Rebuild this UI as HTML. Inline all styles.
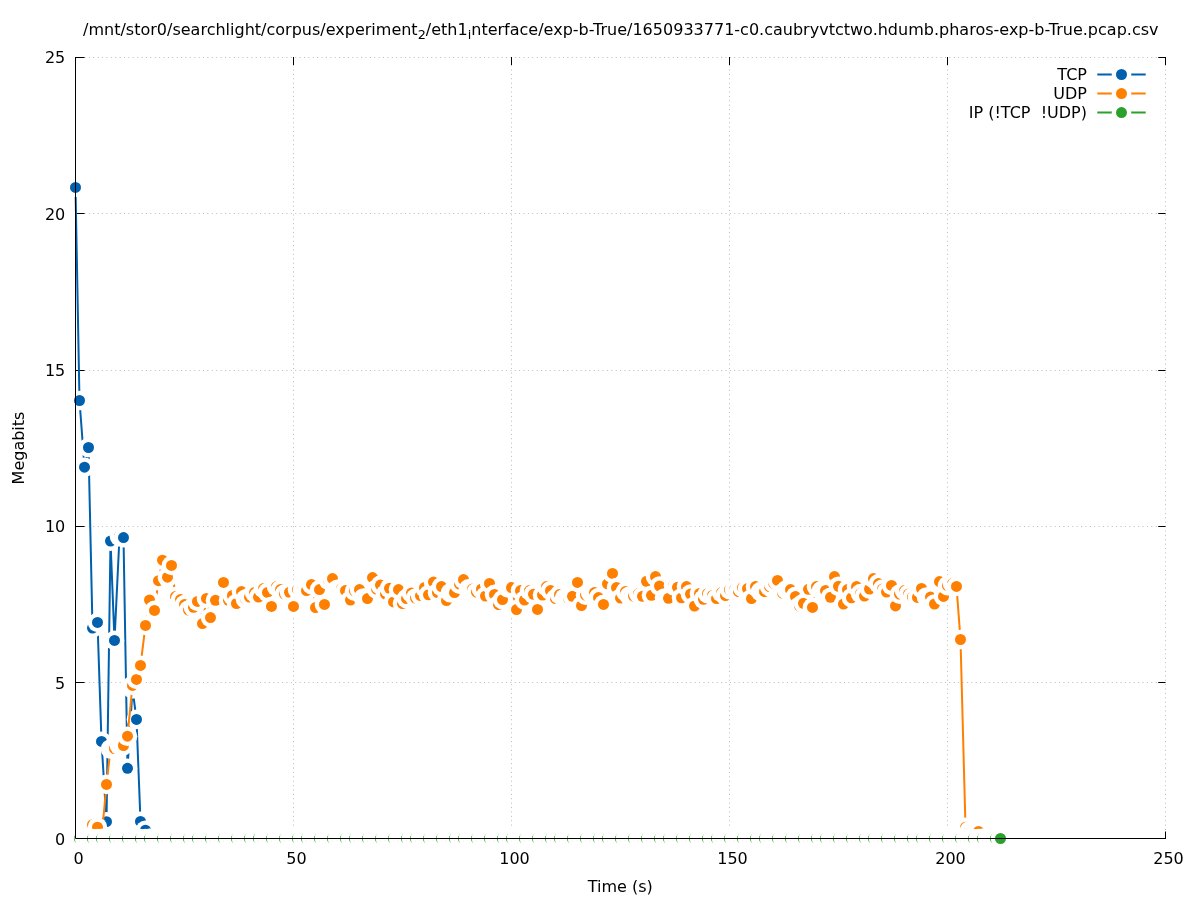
<!DOCTYPE html>
<html lang="en"><head><meta charset="utf-8"><title>Megabits over Time</title>
<style>html,body{margin:0;padding:0;background:#fff}body{width:1197px;height:900px;overflow:hidden}svg{display:block;will-change:transform}text{font-family:"DejaVu Sans","Liberation Sans",sans-serif;font-size:16px;fill:#000}</style></head><body>
<svg width="1197" height="900" viewBox="0 0 1197 900">
<rect width="1197" height="900" fill="#fff"/>
<g stroke="#bbbbbb" stroke-width="1" stroke-dasharray="1 3.39" fill="none">
<path d="M84.5 682.5H1165.5"/>
<path d="M84.5 526.5H1165.5"/>
<path d="M84.5 370.5H1165.5"/>
<path d="M84.5 213.5H1165.5"/>
<path d="M84.5 57.5H1165.5"/>
<path d="M293.5 830V57.5"/>
<path d="M511.5 830V57.5"/>
<path d="M729.5 830V57.5"/>
<path d="M947.5 830V57.5"/>
<path d="M1165.5 830V57.5"/>
</g>
<g stroke="#000" stroke-width="1" fill="none">
<path d="M75.5 838.5h9M1165.5 838.5h-7.3"/>
<path d="M75.5 682.5h9M1165.5 682.5h-7.3"/>
<path d="M75.5 526.5h9M1165.5 526.5h-7.3"/>
<path d="M75.5 370.5h9M1165.5 370.5h-7.3"/>
<path d="M75.5 213.5h9M1165.5 213.5h-7.3"/>
<path d="M75.5 57.5h9M1165.5 57.5h-7.3"/>
<path d="M75.5 838.5v-7M75.5 57.0v8"/>
<path d="M293.5 838.5v-7M293.5 57.0v8"/>
<path d="M511.5 838.5v-7M511.5 57.0v8"/>
<path d="M729.5 838.5v-7M729.5 57.0v8"/>
<path d="M947.5 838.5v-7M947.5 57.0v8"/>
<path d="M1165.5 838.5v-7M1165.5 57.0v8"/>
</g>
<g>
<path d="M75.50 187.40L79.50 400.50L84.50 467.20L88.50 447.50L92.50 628.10L97.50 622.40L101.50 741.40L106.50 821.70L110.50 541.10L114.50 640.40L119.50 536.50L123.50 537.60L127.50 768.30L132.50 689.00L136.50 719.40L140.50 821.40L145.50 830.20L149.50 838.30L154.50 838.30L158.50 838.30L162.50 838.30L167.50 838.30L171.50 838.30L175.50 838.30L180.50 838.30L184.50 838.30L188.50 838.30L193.50 838.30L197.50 838.30L202.50 838.30L206.50 838.30L210.50 838.30L215.50 838.30L219.50 838.30L223.50 838.30L228.50 838.30L232.50 838.30L236.50 838.30L241.50 838.30L245.50 838.30L249.50 838.30L254.50 838.30L258.50 838.30L263.50 838.30L267.50 838.30L271.50 838.30L276.50 838.30L280.50 838.30L284.50 838.30L289.50 838.30L293.50 838.30L297.50 838.30L302.50 838.30L306.50 838.30L311.50 838.30L315.50 838.30L319.50 838.30L324.50 838.30L328.50 838.30L332.50 838.30L337.50 838.30L341.50 838.30L345.50 838.30L350.50 838.30L354.50 838.30L359.50 838.30L363.50 838.30L367.50 838.30L372.50 838.30L376.50 838.30L380.50 838.30L385.50 838.30L389.50 838.30L393.50 838.30L398.50 838.30L402.50 838.30L406.50 838.30L411.50 838.30L415.50 838.30L420.50 838.30L424.50 838.30L428.50 838.30L433.50 838.30L437.50 838.30L441.50 838.30L446.50 838.30L450.50 838.30L454.50 838.30L459.50 838.30L463.50 838.30L468.50 838.30L472.50 838.30L476.50 838.30L481.50 838.30L485.50 838.30L489.50 838.30L494.50 838.30L498.50 838.30L502.50 838.30L507.50 838.30L511.50 838.30L516.50 838.30L520.50 838.30L524.50 838.30L529.50 838.30L533.50 838.30L537.50 838.30L542.50 838.30L546.50 838.30L550.50 838.30L555.50 838.30L559.50 838.30L564.50 838.30L568.50 838.30L572.50 838.30L577.50 838.30L581.50 838.30L585.50 838.30L590.50 838.30L594.50 838.30L598.50 838.30L603.50 838.30L607.50 838.30L612.50 838.30L616.50 838.30L620.50 838.30L625.50 838.30L629.50 838.30L633.50 838.30L638.50 838.30L642.50 838.30L646.50 838.30L651.50 838.30L655.50 838.30L659.50 838.30L664.50 838.30L668.50 838.30L673.50 838.30L677.50 838.30L681.50 838.30L686.50 838.30L690.50 838.30L694.50 838.30L699.50 838.30L703.50 838.30L707.50 838.30L712.50 838.30L716.50 838.30L721.50 838.30L725.50 838.30L729.50 838.30L734.50 838.30L738.50 838.30L742.50 838.30L747.50 838.30L751.50 838.30L755.50 838.30L760.50 838.30L764.50 838.30L769.50 838.30L773.50 838.30L777.50 838.30L782.50 838.30L786.50 838.30L790.50 838.30L795.50 838.30L799.50 838.30L803.50 838.30L808.50 838.30L812.50 838.30L816.50 838.30L821.50 838.30L825.50 838.30L830.50 838.30L834.50 838.30L838.50 838.30L843.50 838.30L847.50 838.30L851.50 838.30L856.50 838.30L860.50 838.30L864.50 838.30L869.50 838.30L873.50 838.30L878.50 838.30L882.50 838.30L886.50 838.30L891.50 838.30L895.50 838.30L899.50 838.30L904.50 838.30L908.50 838.30L912.50 838.30L917.50 838.30L921.50 838.30L926.50 838.30L930.50 838.30L934.50 838.30L939.50 838.30L943.50 838.30L947.50 838.30L952.50 838.30L956.50 838.30L960.50 838.30L965.50 838.30L969.50 838.30L973.50 838.30L978.50 838.30L982.50 838.30L987.50 838.30L991.50 838.30L995.50 838.30L1000.50 838.30" stroke="#0060ad" stroke-width="2.0" fill="none" stroke-linejoin="round"/>
<circle cx="75.50" cy="187.40" r="9.8" fill="#fff"/><circle cx="75.50" cy="187.40" r="5.5" fill="#0060ad"/>
<circle cx="79.50" cy="400.50" r="9.8" fill="#fff"/><circle cx="79.50" cy="400.50" r="5.5" fill="#0060ad"/>
<circle cx="84.50" cy="467.20" r="9.8" fill="#fff"/><circle cx="84.50" cy="467.20" r="5.5" fill="#0060ad"/>
<circle cx="88.50" cy="447.50" r="9.8" fill="#fff"/><circle cx="88.50" cy="447.50" r="5.5" fill="#0060ad"/>
<circle cx="92.50" cy="628.10" r="9.8" fill="#fff"/><circle cx="92.50" cy="628.10" r="5.5" fill="#0060ad"/>
<circle cx="97.50" cy="622.40" r="9.8" fill="#fff"/><circle cx="97.50" cy="622.40" r="5.5" fill="#0060ad"/>
<circle cx="101.50" cy="741.40" r="9.8" fill="#fff"/><circle cx="101.50" cy="741.40" r="5.5" fill="#0060ad"/>
<circle cx="106.50" cy="821.70" r="9.8" fill="#fff"/><circle cx="106.50" cy="821.70" r="5.5" fill="#0060ad"/>
<circle cx="110.50" cy="541.10" r="9.8" fill="#fff"/><circle cx="110.50" cy="541.10" r="5.5" fill="#0060ad"/>
<circle cx="114.50" cy="640.40" r="9.8" fill="#fff"/><circle cx="114.50" cy="640.40" r="5.5" fill="#0060ad"/>
<circle cx="119.50" cy="536.50" r="9.8" fill="#fff"/><circle cx="119.50" cy="536.50" r="5.5" fill="#0060ad"/>
<circle cx="123.50" cy="537.60" r="9.8" fill="#fff"/><circle cx="123.50" cy="537.60" r="5.5" fill="#0060ad"/>
<circle cx="127.50" cy="768.30" r="9.8" fill="#fff"/><circle cx="127.50" cy="768.30" r="5.5" fill="#0060ad"/>
<circle cx="132.50" cy="689.00" r="9.8" fill="#fff"/><circle cx="132.50" cy="689.00" r="5.5" fill="#0060ad"/>
<circle cx="136.50" cy="719.40" r="9.8" fill="#fff"/><circle cx="136.50" cy="719.40" r="5.5" fill="#0060ad"/>
<circle cx="140.50" cy="821.40" r="9.8" fill="#fff"/><circle cx="140.50" cy="821.40" r="5.5" fill="#0060ad"/>
<circle cx="145.50" cy="830.20" r="9.8" fill="#fff"/><circle cx="145.50" cy="830.20" r="5.5" fill="#0060ad"/>
<circle cx="149.50" cy="838.30" r="9.8" fill="#fff"/><circle cx="149.50" cy="838.30" r="5.5" fill="#0060ad"/>
<circle cx="154.50" cy="838.30" r="9.8" fill="#fff"/><circle cx="154.50" cy="838.30" r="5.5" fill="#0060ad"/>
<circle cx="158.50" cy="838.30" r="9.8" fill="#fff"/><circle cx="158.50" cy="838.30" r="5.5" fill="#0060ad"/>
<circle cx="162.50" cy="838.30" r="9.8" fill="#fff"/><circle cx="162.50" cy="838.30" r="5.5" fill="#0060ad"/>
<circle cx="167.50" cy="838.30" r="9.8" fill="#fff"/><circle cx="167.50" cy="838.30" r="5.5" fill="#0060ad"/>
<circle cx="171.50" cy="838.30" r="9.8" fill="#fff"/><circle cx="171.50" cy="838.30" r="5.5" fill="#0060ad"/>
<circle cx="175.50" cy="838.30" r="9.8" fill="#fff"/><circle cx="175.50" cy="838.30" r="5.5" fill="#0060ad"/>
<circle cx="180.50" cy="838.30" r="9.8" fill="#fff"/><circle cx="180.50" cy="838.30" r="5.5" fill="#0060ad"/>
<circle cx="184.50" cy="838.30" r="9.8" fill="#fff"/><circle cx="184.50" cy="838.30" r="5.5" fill="#0060ad"/>
<circle cx="188.50" cy="838.30" r="9.8" fill="#fff"/><circle cx="188.50" cy="838.30" r="5.5" fill="#0060ad"/>
<circle cx="193.50" cy="838.30" r="9.8" fill="#fff"/><circle cx="193.50" cy="838.30" r="5.5" fill="#0060ad"/>
<circle cx="197.50" cy="838.30" r="9.8" fill="#fff"/><circle cx="197.50" cy="838.30" r="5.5" fill="#0060ad"/>
<circle cx="202.50" cy="838.30" r="9.8" fill="#fff"/><circle cx="202.50" cy="838.30" r="5.5" fill="#0060ad"/>
<circle cx="206.50" cy="838.30" r="9.8" fill="#fff"/><circle cx="206.50" cy="838.30" r="5.5" fill="#0060ad"/>
<circle cx="210.50" cy="838.30" r="9.8" fill="#fff"/><circle cx="210.50" cy="838.30" r="5.5" fill="#0060ad"/>
<circle cx="215.50" cy="838.30" r="9.8" fill="#fff"/><circle cx="215.50" cy="838.30" r="5.5" fill="#0060ad"/>
<circle cx="219.50" cy="838.30" r="9.8" fill="#fff"/><circle cx="219.50" cy="838.30" r="5.5" fill="#0060ad"/>
<circle cx="223.50" cy="838.30" r="9.8" fill="#fff"/><circle cx="223.50" cy="838.30" r="5.5" fill="#0060ad"/>
<circle cx="228.50" cy="838.30" r="9.8" fill="#fff"/><circle cx="228.50" cy="838.30" r="5.5" fill="#0060ad"/>
<circle cx="232.50" cy="838.30" r="9.8" fill="#fff"/><circle cx="232.50" cy="838.30" r="5.5" fill="#0060ad"/>
<circle cx="236.50" cy="838.30" r="9.8" fill="#fff"/><circle cx="236.50" cy="838.30" r="5.5" fill="#0060ad"/>
<circle cx="241.50" cy="838.30" r="9.8" fill="#fff"/><circle cx="241.50" cy="838.30" r="5.5" fill="#0060ad"/>
<circle cx="245.50" cy="838.30" r="9.8" fill="#fff"/><circle cx="245.50" cy="838.30" r="5.5" fill="#0060ad"/>
<circle cx="249.50" cy="838.30" r="9.8" fill="#fff"/><circle cx="249.50" cy="838.30" r="5.5" fill="#0060ad"/>
<circle cx="254.50" cy="838.30" r="9.8" fill="#fff"/><circle cx="254.50" cy="838.30" r="5.5" fill="#0060ad"/>
<circle cx="258.50" cy="838.30" r="9.8" fill="#fff"/><circle cx="258.50" cy="838.30" r="5.5" fill="#0060ad"/>
<circle cx="263.50" cy="838.30" r="9.8" fill="#fff"/><circle cx="263.50" cy="838.30" r="5.5" fill="#0060ad"/>
<circle cx="267.50" cy="838.30" r="9.8" fill="#fff"/><circle cx="267.50" cy="838.30" r="5.5" fill="#0060ad"/>
<circle cx="271.50" cy="838.30" r="9.8" fill="#fff"/><circle cx="271.50" cy="838.30" r="5.5" fill="#0060ad"/>
<circle cx="276.50" cy="838.30" r="9.8" fill="#fff"/><circle cx="276.50" cy="838.30" r="5.5" fill="#0060ad"/>
<circle cx="280.50" cy="838.30" r="9.8" fill="#fff"/><circle cx="280.50" cy="838.30" r="5.5" fill="#0060ad"/>
<circle cx="284.50" cy="838.30" r="9.8" fill="#fff"/><circle cx="284.50" cy="838.30" r="5.5" fill="#0060ad"/>
<circle cx="289.50" cy="838.30" r="9.8" fill="#fff"/><circle cx="289.50" cy="838.30" r="5.5" fill="#0060ad"/>
<circle cx="293.50" cy="838.30" r="9.8" fill="#fff"/><circle cx="293.50" cy="838.30" r="5.5" fill="#0060ad"/>
<circle cx="297.50" cy="838.30" r="9.8" fill="#fff"/><circle cx="297.50" cy="838.30" r="5.5" fill="#0060ad"/>
<circle cx="302.50" cy="838.30" r="9.8" fill="#fff"/><circle cx="302.50" cy="838.30" r="5.5" fill="#0060ad"/>
<circle cx="306.50" cy="838.30" r="9.8" fill="#fff"/><circle cx="306.50" cy="838.30" r="5.5" fill="#0060ad"/>
<circle cx="311.50" cy="838.30" r="9.8" fill="#fff"/><circle cx="311.50" cy="838.30" r="5.5" fill="#0060ad"/>
<circle cx="315.50" cy="838.30" r="9.8" fill="#fff"/><circle cx="315.50" cy="838.30" r="5.5" fill="#0060ad"/>
<circle cx="319.50" cy="838.30" r="9.8" fill="#fff"/><circle cx="319.50" cy="838.30" r="5.5" fill="#0060ad"/>
<circle cx="324.50" cy="838.30" r="9.8" fill="#fff"/><circle cx="324.50" cy="838.30" r="5.5" fill="#0060ad"/>
<circle cx="328.50" cy="838.30" r="9.8" fill="#fff"/><circle cx="328.50" cy="838.30" r="5.5" fill="#0060ad"/>
<circle cx="332.50" cy="838.30" r="9.8" fill="#fff"/><circle cx="332.50" cy="838.30" r="5.5" fill="#0060ad"/>
<circle cx="337.50" cy="838.30" r="9.8" fill="#fff"/><circle cx="337.50" cy="838.30" r="5.5" fill="#0060ad"/>
<circle cx="341.50" cy="838.30" r="9.8" fill="#fff"/><circle cx="341.50" cy="838.30" r="5.5" fill="#0060ad"/>
<circle cx="345.50" cy="838.30" r="9.8" fill="#fff"/><circle cx="345.50" cy="838.30" r="5.5" fill="#0060ad"/>
<circle cx="350.50" cy="838.30" r="9.8" fill="#fff"/><circle cx="350.50" cy="838.30" r="5.5" fill="#0060ad"/>
<circle cx="354.50" cy="838.30" r="9.8" fill="#fff"/><circle cx="354.50" cy="838.30" r="5.5" fill="#0060ad"/>
<circle cx="359.50" cy="838.30" r="9.8" fill="#fff"/><circle cx="359.50" cy="838.30" r="5.5" fill="#0060ad"/>
<circle cx="363.50" cy="838.30" r="9.8" fill="#fff"/><circle cx="363.50" cy="838.30" r="5.5" fill="#0060ad"/>
<circle cx="367.50" cy="838.30" r="9.8" fill="#fff"/><circle cx="367.50" cy="838.30" r="5.5" fill="#0060ad"/>
<circle cx="372.50" cy="838.30" r="9.8" fill="#fff"/><circle cx="372.50" cy="838.30" r="5.5" fill="#0060ad"/>
<circle cx="376.50" cy="838.30" r="9.8" fill="#fff"/><circle cx="376.50" cy="838.30" r="5.5" fill="#0060ad"/>
<circle cx="380.50" cy="838.30" r="9.8" fill="#fff"/><circle cx="380.50" cy="838.30" r="5.5" fill="#0060ad"/>
<circle cx="385.50" cy="838.30" r="9.8" fill="#fff"/><circle cx="385.50" cy="838.30" r="5.5" fill="#0060ad"/>
<circle cx="389.50" cy="838.30" r="9.8" fill="#fff"/><circle cx="389.50" cy="838.30" r="5.5" fill="#0060ad"/>
<circle cx="393.50" cy="838.30" r="9.8" fill="#fff"/><circle cx="393.50" cy="838.30" r="5.5" fill="#0060ad"/>
<circle cx="398.50" cy="838.30" r="9.8" fill="#fff"/><circle cx="398.50" cy="838.30" r="5.5" fill="#0060ad"/>
<circle cx="402.50" cy="838.30" r="9.8" fill="#fff"/><circle cx="402.50" cy="838.30" r="5.5" fill="#0060ad"/>
<circle cx="406.50" cy="838.30" r="9.8" fill="#fff"/><circle cx="406.50" cy="838.30" r="5.5" fill="#0060ad"/>
<circle cx="411.50" cy="838.30" r="9.8" fill="#fff"/><circle cx="411.50" cy="838.30" r="5.5" fill="#0060ad"/>
<circle cx="415.50" cy="838.30" r="9.8" fill="#fff"/><circle cx="415.50" cy="838.30" r="5.5" fill="#0060ad"/>
<circle cx="420.50" cy="838.30" r="9.8" fill="#fff"/><circle cx="420.50" cy="838.30" r="5.5" fill="#0060ad"/>
<circle cx="424.50" cy="838.30" r="9.8" fill="#fff"/><circle cx="424.50" cy="838.30" r="5.5" fill="#0060ad"/>
<circle cx="428.50" cy="838.30" r="9.8" fill="#fff"/><circle cx="428.50" cy="838.30" r="5.5" fill="#0060ad"/>
<circle cx="433.50" cy="838.30" r="9.8" fill="#fff"/><circle cx="433.50" cy="838.30" r="5.5" fill="#0060ad"/>
<circle cx="437.50" cy="838.30" r="9.8" fill="#fff"/><circle cx="437.50" cy="838.30" r="5.5" fill="#0060ad"/>
<circle cx="441.50" cy="838.30" r="9.8" fill="#fff"/><circle cx="441.50" cy="838.30" r="5.5" fill="#0060ad"/>
<circle cx="446.50" cy="838.30" r="9.8" fill="#fff"/><circle cx="446.50" cy="838.30" r="5.5" fill="#0060ad"/>
<circle cx="450.50" cy="838.30" r="9.8" fill="#fff"/><circle cx="450.50" cy="838.30" r="5.5" fill="#0060ad"/>
<circle cx="454.50" cy="838.30" r="9.8" fill="#fff"/><circle cx="454.50" cy="838.30" r="5.5" fill="#0060ad"/>
<circle cx="459.50" cy="838.30" r="9.8" fill="#fff"/><circle cx="459.50" cy="838.30" r="5.5" fill="#0060ad"/>
<circle cx="463.50" cy="838.30" r="9.8" fill="#fff"/><circle cx="463.50" cy="838.30" r="5.5" fill="#0060ad"/>
<circle cx="468.50" cy="838.30" r="9.8" fill="#fff"/><circle cx="468.50" cy="838.30" r="5.5" fill="#0060ad"/>
<circle cx="472.50" cy="838.30" r="9.8" fill="#fff"/><circle cx="472.50" cy="838.30" r="5.5" fill="#0060ad"/>
<circle cx="476.50" cy="838.30" r="9.8" fill="#fff"/><circle cx="476.50" cy="838.30" r="5.5" fill="#0060ad"/>
<circle cx="481.50" cy="838.30" r="9.8" fill="#fff"/><circle cx="481.50" cy="838.30" r="5.5" fill="#0060ad"/>
<circle cx="485.50" cy="838.30" r="9.8" fill="#fff"/><circle cx="485.50" cy="838.30" r="5.5" fill="#0060ad"/>
<circle cx="489.50" cy="838.30" r="9.8" fill="#fff"/><circle cx="489.50" cy="838.30" r="5.5" fill="#0060ad"/>
<circle cx="494.50" cy="838.30" r="9.8" fill="#fff"/><circle cx="494.50" cy="838.30" r="5.5" fill="#0060ad"/>
<circle cx="498.50" cy="838.30" r="9.8" fill="#fff"/><circle cx="498.50" cy="838.30" r="5.5" fill="#0060ad"/>
<circle cx="502.50" cy="838.30" r="9.8" fill="#fff"/><circle cx="502.50" cy="838.30" r="5.5" fill="#0060ad"/>
<circle cx="507.50" cy="838.30" r="9.8" fill="#fff"/><circle cx="507.50" cy="838.30" r="5.5" fill="#0060ad"/>
<circle cx="511.50" cy="838.30" r="9.8" fill="#fff"/><circle cx="511.50" cy="838.30" r="5.5" fill="#0060ad"/>
<circle cx="516.50" cy="838.30" r="9.8" fill="#fff"/><circle cx="516.50" cy="838.30" r="5.5" fill="#0060ad"/>
<circle cx="520.50" cy="838.30" r="9.8" fill="#fff"/><circle cx="520.50" cy="838.30" r="5.5" fill="#0060ad"/>
<circle cx="524.50" cy="838.30" r="9.8" fill="#fff"/><circle cx="524.50" cy="838.30" r="5.5" fill="#0060ad"/>
<circle cx="529.50" cy="838.30" r="9.8" fill="#fff"/><circle cx="529.50" cy="838.30" r="5.5" fill="#0060ad"/>
<circle cx="533.50" cy="838.30" r="9.8" fill="#fff"/><circle cx="533.50" cy="838.30" r="5.5" fill="#0060ad"/>
<circle cx="537.50" cy="838.30" r="9.8" fill="#fff"/><circle cx="537.50" cy="838.30" r="5.5" fill="#0060ad"/>
<circle cx="542.50" cy="838.30" r="9.8" fill="#fff"/><circle cx="542.50" cy="838.30" r="5.5" fill="#0060ad"/>
<circle cx="546.50" cy="838.30" r="9.8" fill="#fff"/><circle cx="546.50" cy="838.30" r="5.5" fill="#0060ad"/>
<circle cx="550.50" cy="838.30" r="9.8" fill="#fff"/><circle cx="550.50" cy="838.30" r="5.5" fill="#0060ad"/>
<circle cx="555.50" cy="838.30" r="9.8" fill="#fff"/><circle cx="555.50" cy="838.30" r="5.5" fill="#0060ad"/>
<circle cx="559.50" cy="838.30" r="9.8" fill="#fff"/><circle cx="559.50" cy="838.30" r="5.5" fill="#0060ad"/>
<circle cx="564.50" cy="838.30" r="9.8" fill="#fff"/><circle cx="564.50" cy="838.30" r="5.5" fill="#0060ad"/>
<circle cx="568.50" cy="838.30" r="9.8" fill="#fff"/><circle cx="568.50" cy="838.30" r="5.5" fill="#0060ad"/>
<circle cx="572.50" cy="838.30" r="9.8" fill="#fff"/><circle cx="572.50" cy="838.30" r="5.5" fill="#0060ad"/>
<circle cx="577.50" cy="838.30" r="9.8" fill="#fff"/><circle cx="577.50" cy="838.30" r="5.5" fill="#0060ad"/>
<circle cx="581.50" cy="838.30" r="9.8" fill="#fff"/><circle cx="581.50" cy="838.30" r="5.5" fill="#0060ad"/>
<circle cx="585.50" cy="838.30" r="9.8" fill="#fff"/><circle cx="585.50" cy="838.30" r="5.5" fill="#0060ad"/>
<circle cx="590.50" cy="838.30" r="9.8" fill="#fff"/><circle cx="590.50" cy="838.30" r="5.5" fill="#0060ad"/>
<circle cx="594.50" cy="838.30" r="9.8" fill="#fff"/><circle cx="594.50" cy="838.30" r="5.5" fill="#0060ad"/>
<circle cx="598.50" cy="838.30" r="9.8" fill="#fff"/><circle cx="598.50" cy="838.30" r="5.5" fill="#0060ad"/>
<circle cx="603.50" cy="838.30" r="9.8" fill="#fff"/><circle cx="603.50" cy="838.30" r="5.5" fill="#0060ad"/>
<circle cx="607.50" cy="838.30" r="9.8" fill="#fff"/><circle cx="607.50" cy="838.30" r="5.5" fill="#0060ad"/>
<circle cx="612.50" cy="838.30" r="9.8" fill="#fff"/><circle cx="612.50" cy="838.30" r="5.5" fill="#0060ad"/>
<circle cx="616.50" cy="838.30" r="9.8" fill="#fff"/><circle cx="616.50" cy="838.30" r="5.5" fill="#0060ad"/>
<circle cx="620.50" cy="838.30" r="9.8" fill="#fff"/><circle cx="620.50" cy="838.30" r="5.5" fill="#0060ad"/>
<circle cx="625.50" cy="838.30" r="9.8" fill="#fff"/><circle cx="625.50" cy="838.30" r="5.5" fill="#0060ad"/>
<circle cx="629.50" cy="838.30" r="9.8" fill="#fff"/><circle cx="629.50" cy="838.30" r="5.5" fill="#0060ad"/>
<circle cx="633.50" cy="838.30" r="9.8" fill="#fff"/><circle cx="633.50" cy="838.30" r="5.5" fill="#0060ad"/>
<circle cx="638.50" cy="838.30" r="9.8" fill="#fff"/><circle cx="638.50" cy="838.30" r="5.5" fill="#0060ad"/>
<circle cx="642.50" cy="838.30" r="9.8" fill="#fff"/><circle cx="642.50" cy="838.30" r="5.5" fill="#0060ad"/>
<circle cx="646.50" cy="838.30" r="9.8" fill="#fff"/><circle cx="646.50" cy="838.30" r="5.5" fill="#0060ad"/>
<circle cx="651.50" cy="838.30" r="9.8" fill="#fff"/><circle cx="651.50" cy="838.30" r="5.5" fill="#0060ad"/>
<circle cx="655.50" cy="838.30" r="9.8" fill="#fff"/><circle cx="655.50" cy="838.30" r="5.5" fill="#0060ad"/>
<circle cx="659.50" cy="838.30" r="9.8" fill="#fff"/><circle cx="659.50" cy="838.30" r="5.5" fill="#0060ad"/>
<circle cx="664.50" cy="838.30" r="9.8" fill="#fff"/><circle cx="664.50" cy="838.30" r="5.5" fill="#0060ad"/>
<circle cx="668.50" cy="838.30" r="9.8" fill="#fff"/><circle cx="668.50" cy="838.30" r="5.5" fill="#0060ad"/>
<circle cx="673.50" cy="838.30" r="9.8" fill="#fff"/><circle cx="673.50" cy="838.30" r="5.5" fill="#0060ad"/>
<circle cx="677.50" cy="838.30" r="9.8" fill="#fff"/><circle cx="677.50" cy="838.30" r="5.5" fill="#0060ad"/>
<circle cx="681.50" cy="838.30" r="9.8" fill="#fff"/><circle cx="681.50" cy="838.30" r="5.5" fill="#0060ad"/>
<circle cx="686.50" cy="838.30" r="9.8" fill="#fff"/><circle cx="686.50" cy="838.30" r="5.5" fill="#0060ad"/>
<circle cx="690.50" cy="838.30" r="9.8" fill="#fff"/><circle cx="690.50" cy="838.30" r="5.5" fill="#0060ad"/>
<circle cx="694.50" cy="838.30" r="9.8" fill="#fff"/><circle cx="694.50" cy="838.30" r="5.5" fill="#0060ad"/>
<circle cx="699.50" cy="838.30" r="9.8" fill="#fff"/><circle cx="699.50" cy="838.30" r="5.5" fill="#0060ad"/>
<circle cx="703.50" cy="838.30" r="9.8" fill="#fff"/><circle cx="703.50" cy="838.30" r="5.5" fill="#0060ad"/>
<circle cx="707.50" cy="838.30" r="9.8" fill="#fff"/><circle cx="707.50" cy="838.30" r="5.5" fill="#0060ad"/>
<circle cx="712.50" cy="838.30" r="9.8" fill="#fff"/><circle cx="712.50" cy="838.30" r="5.5" fill="#0060ad"/>
<circle cx="716.50" cy="838.30" r="9.8" fill="#fff"/><circle cx="716.50" cy="838.30" r="5.5" fill="#0060ad"/>
<circle cx="721.50" cy="838.30" r="9.8" fill="#fff"/><circle cx="721.50" cy="838.30" r="5.5" fill="#0060ad"/>
<circle cx="725.50" cy="838.30" r="9.8" fill="#fff"/><circle cx="725.50" cy="838.30" r="5.5" fill="#0060ad"/>
<circle cx="729.50" cy="838.30" r="9.8" fill="#fff"/><circle cx="729.50" cy="838.30" r="5.5" fill="#0060ad"/>
<circle cx="734.50" cy="838.30" r="9.8" fill="#fff"/><circle cx="734.50" cy="838.30" r="5.5" fill="#0060ad"/>
<circle cx="738.50" cy="838.30" r="9.8" fill="#fff"/><circle cx="738.50" cy="838.30" r="5.5" fill="#0060ad"/>
<circle cx="742.50" cy="838.30" r="9.8" fill="#fff"/><circle cx="742.50" cy="838.30" r="5.5" fill="#0060ad"/>
<circle cx="747.50" cy="838.30" r="9.8" fill="#fff"/><circle cx="747.50" cy="838.30" r="5.5" fill="#0060ad"/>
<circle cx="751.50" cy="838.30" r="9.8" fill="#fff"/><circle cx="751.50" cy="838.30" r="5.5" fill="#0060ad"/>
<circle cx="755.50" cy="838.30" r="9.8" fill="#fff"/><circle cx="755.50" cy="838.30" r="5.5" fill="#0060ad"/>
<circle cx="760.50" cy="838.30" r="9.8" fill="#fff"/><circle cx="760.50" cy="838.30" r="5.5" fill="#0060ad"/>
<circle cx="764.50" cy="838.30" r="9.8" fill="#fff"/><circle cx="764.50" cy="838.30" r="5.5" fill="#0060ad"/>
<circle cx="769.50" cy="838.30" r="9.8" fill="#fff"/><circle cx="769.50" cy="838.30" r="5.5" fill="#0060ad"/>
<circle cx="773.50" cy="838.30" r="9.8" fill="#fff"/><circle cx="773.50" cy="838.30" r="5.5" fill="#0060ad"/>
<circle cx="777.50" cy="838.30" r="9.8" fill="#fff"/><circle cx="777.50" cy="838.30" r="5.5" fill="#0060ad"/>
<circle cx="782.50" cy="838.30" r="9.8" fill="#fff"/><circle cx="782.50" cy="838.30" r="5.5" fill="#0060ad"/>
<circle cx="786.50" cy="838.30" r="9.8" fill="#fff"/><circle cx="786.50" cy="838.30" r="5.5" fill="#0060ad"/>
<circle cx="790.50" cy="838.30" r="9.8" fill="#fff"/><circle cx="790.50" cy="838.30" r="5.5" fill="#0060ad"/>
<circle cx="795.50" cy="838.30" r="9.8" fill="#fff"/><circle cx="795.50" cy="838.30" r="5.5" fill="#0060ad"/>
<circle cx="799.50" cy="838.30" r="9.8" fill="#fff"/><circle cx="799.50" cy="838.30" r="5.5" fill="#0060ad"/>
<circle cx="803.50" cy="838.30" r="9.8" fill="#fff"/><circle cx="803.50" cy="838.30" r="5.5" fill="#0060ad"/>
<circle cx="808.50" cy="838.30" r="9.8" fill="#fff"/><circle cx="808.50" cy="838.30" r="5.5" fill="#0060ad"/>
<circle cx="812.50" cy="838.30" r="9.8" fill="#fff"/><circle cx="812.50" cy="838.30" r="5.5" fill="#0060ad"/>
<circle cx="816.50" cy="838.30" r="9.8" fill="#fff"/><circle cx="816.50" cy="838.30" r="5.5" fill="#0060ad"/>
<circle cx="821.50" cy="838.30" r="9.8" fill="#fff"/><circle cx="821.50" cy="838.30" r="5.5" fill="#0060ad"/>
<circle cx="825.50" cy="838.30" r="9.8" fill="#fff"/><circle cx="825.50" cy="838.30" r="5.5" fill="#0060ad"/>
<circle cx="830.50" cy="838.30" r="9.8" fill="#fff"/><circle cx="830.50" cy="838.30" r="5.5" fill="#0060ad"/>
<circle cx="834.50" cy="838.30" r="9.8" fill="#fff"/><circle cx="834.50" cy="838.30" r="5.5" fill="#0060ad"/>
<circle cx="838.50" cy="838.30" r="9.8" fill="#fff"/><circle cx="838.50" cy="838.30" r="5.5" fill="#0060ad"/>
<circle cx="843.50" cy="838.30" r="9.8" fill="#fff"/><circle cx="843.50" cy="838.30" r="5.5" fill="#0060ad"/>
<circle cx="847.50" cy="838.30" r="9.8" fill="#fff"/><circle cx="847.50" cy="838.30" r="5.5" fill="#0060ad"/>
<circle cx="851.50" cy="838.30" r="9.8" fill="#fff"/><circle cx="851.50" cy="838.30" r="5.5" fill="#0060ad"/>
<circle cx="856.50" cy="838.30" r="9.8" fill="#fff"/><circle cx="856.50" cy="838.30" r="5.5" fill="#0060ad"/>
<circle cx="860.50" cy="838.30" r="9.8" fill="#fff"/><circle cx="860.50" cy="838.30" r="5.5" fill="#0060ad"/>
<circle cx="864.50" cy="838.30" r="9.8" fill="#fff"/><circle cx="864.50" cy="838.30" r="5.5" fill="#0060ad"/>
<circle cx="869.50" cy="838.30" r="9.8" fill="#fff"/><circle cx="869.50" cy="838.30" r="5.5" fill="#0060ad"/>
<circle cx="873.50" cy="838.30" r="9.8" fill="#fff"/><circle cx="873.50" cy="838.30" r="5.5" fill="#0060ad"/>
<circle cx="878.50" cy="838.30" r="9.8" fill="#fff"/><circle cx="878.50" cy="838.30" r="5.5" fill="#0060ad"/>
<circle cx="882.50" cy="838.30" r="9.8" fill="#fff"/><circle cx="882.50" cy="838.30" r="5.5" fill="#0060ad"/>
<circle cx="886.50" cy="838.30" r="9.8" fill="#fff"/><circle cx="886.50" cy="838.30" r="5.5" fill="#0060ad"/>
<circle cx="891.50" cy="838.30" r="9.8" fill="#fff"/><circle cx="891.50" cy="838.30" r="5.5" fill="#0060ad"/>
<circle cx="895.50" cy="838.30" r="9.8" fill="#fff"/><circle cx="895.50" cy="838.30" r="5.5" fill="#0060ad"/>
<circle cx="899.50" cy="838.30" r="9.8" fill="#fff"/><circle cx="899.50" cy="838.30" r="5.5" fill="#0060ad"/>
<circle cx="904.50" cy="838.30" r="9.8" fill="#fff"/><circle cx="904.50" cy="838.30" r="5.5" fill="#0060ad"/>
<circle cx="908.50" cy="838.30" r="9.8" fill="#fff"/><circle cx="908.50" cy="838.30" r="5.5" fill="#0060ad"/>
<circle cx="912.50" cy="838.30" r="9.8" fill="#fff"/><circle cx="912.50" cy="838.30" r="5.5" fill="#0060ad"/>
<circle cx="917.50" cy="838.30" r="9.8" fill="#fff"/><circle cx="917.50" cy="838.30" r="5.5" fill="#0060ad"/>
<circle cx="921.50" cy="838.30" r="9.8" fill="#fff"/><circle cx="921.50" cy="838.30" r="5.5" fill="#0060ad"/>
<circle cx="926.50" cy="838.30" r="9.8" fill="#fff"/><circle cx="926.50" cy="838.30" r="5.5" fill="#0060ad"/>
<circle cx="930.50" cy="838.30" r="9.8" fill="#fff"/><circle cx="930.50" cy="838.30" r="5.5" fill="#0060ad"/>
<circle cx="934.50" cy="838.30" r="9.8" fill="#fff"/><circle cx="934.50" cy="838.30" r="5.5" fill="#0060ad"/>
<circle cx="939.50" cy="838.30" r="9.8" fill="#fff"/><circle cx="939.50" cy="838.30" r="5.5" fill="#0060ad"/>
<circle cx="943.50" cy="838.30" r="9.8" fill="#fff"/><circle cx="943.50" cy="838.30" r="5.5" fill="#0060ad"/>
<circle cx="947.50" cy="838.30" r="9.8" fill="#fff"/><circle cx="947.50" cy="838.30" r="5.5" fill="#0060ad"/>
<circle cx="952.50" cy="838.30" r="9.8" fill="#fff"/><circle cx="952.50" cy="838.30" r="5.5" fill="#0060ad"/>
<circle cx="956.50" cy="838.30" r="9.8" fill="#fff"/><circle cx="956.50" cy="838.30" r="5.5" fill="#0060ad"/>
<circle cx="960.50" cy="838.30" r="9.8" fill="#fff"/><circle cx="960.50" cy="838.30" r="5.5" fill="#0060ad"/>
<circle cx="965.50" cy="838.30" r="9.8" fill="#fff"/><circle cx="965.50" cy="838.30" r="5.5" fill="#0060ad"/>
<circle cx="969.50" cy="838.30" r="9.8" fill="#fff"/><circle cx="969.50" cy="838.30" r="5.5" fill="#0060ad"/>
<circle cx="973.50" cy="838.30" r="9.8" fill="#fff"/><circle cx="973.50" cy="838.30" r="5.5" fill="#0060ad"/>
<circle cx="978.50" cy="838.30" r="9.8" fill="#fff"/><circle cx="978.50" cy="838.30" r="5.5" fill="#0060ad"/>
<circle cx="982.50" cy="838.30" r="9.8" fill="#fff"/><circle cx="982.50" cy="838.30" r="5.5" fill="#0060ad"/>
<circle cx="987.50" cy="838.30" r="9.8" fill="#fff"/><circle cx="987.50" cy="838.30" r="5.5" fill="#0060ad"/>
<circle cx="991.50" cy="838.30" r="9.8" fill="#fff"/><circle cx="991.50" cy="838.30" r="5.5" fill="#0060ad"/>
<circle cx="995.50" cy="838.30" r="9.8" fill="#fff"/><circle cx="995.50" cy="838.30" r="5.5" fill="#0060ad"/>
<circle cx="1000.50" cy="838.30" r="9.8" fill="#fff"/><circle cx="1000.50" cy="838.30" r="5.5" fill="#0060ad"/>
<path d="M75.50 838.30L79.50 838.30L84.50 838.30L88.50 838.30L92.50 824.70L97.50 827.20L101.50 838.50L106.50 784.40L110.50 749.00L114.50 748.50L119.50 745.50L123.50 745.50L127.50 736.20L132.50 685.40L136.50 679.40L140.50 665.40L145.50 625.40L149.50 600.00L154.50 610.40L158.50 580.70L162.50 560.20L167.50 577.20L171.50 565.40L175.50 596.60L180.50 599.60L184.50 604.60L188.50 610.10L193.50 607.30L197.50 601.40L202.50 623.60L206.50 598.40L210.50 617.60L215.50 600.30L219.50 582.50L223.50 582.40L228.50 600.30L232.50 595.50L236.50 603.50L241.50 591.60L245.50 599.10L249.50 597.10L254.50 592.60L258.50 597.10L263.50 588.60L267.50 592.40L271.50 606.40L276.50 586.60L280.50 589.60L284.50 594.10L289.50 592.30L293.50 606.40L297.50 589.60L302.50 590.00L306.50 590.60L311.50 584.60L315.50 607.60L319.50 589.60L324.50 604.40L328.50 580.20L332.50 578.60L337.50 589.30L341.50 588.60L345.50 590.60L350.50 600.10L354.50 591.10L359.50 589.60L363.50 598.00L367.50 598.60L372.50 577.60L376.50 589.00L380.50 585.10L385.50 594.10L389.50 588.30L393.50 601.90L398.50 589.60L402.50 603.60L406.50 598.60L411.50 593.10L415.50 598.10L420.50 595.60L424.50 587.60L428.50 594.80L433.50 582.10L437.50 592.60L441.50 586.60L446.50 600.60L450.50 592.80L454.50 592.60L459.50 584.10L463.50 579.60L468.50 588.90L472.50 588.90L476.50 592.20L481.50 589.10L485.50 596.10L489.50 583.40L494.50 594.40L498.50 604.60L502.50 599.60L507.50 587.60L511.50 587.60L516.50 609.60L520.50 590.60L524.50 600.10L529.50 590.60L533.50 594.30L537.50 609.40L542.50 595.10L546.50 586.60L550.50 590.60L555.50 598.60L559.50 594.60L564.50 598.30L568.50 598.30L572.50 596.30L577.50 582.40L581.50 605.60L585.50 595.10L590.50 592.60L594.50 592.60L598.50 597.60L603.50 604.40L607.50 583.80L612.50 573.40L616.50 587.60L620.50 598.10L625.50 591.60L629.50 596.00L633.50 596.10L638.50 593.60L642.50 596.30L646.50 581.30L651.50 595.30L655.50 576.60L659.50 586.10L664.50 598.00L668.50 598.30L673.50 585.60L677.50 587.30L681.50 597.80L686.50 586.60L690.50 594.10L694.50 606.10L699.50 593.60L703.50 599.30L707.50 593.60L712.50 595.40L716.50 598.60L721.50 592.60L725.50 595.60L729.50 589.60L734.50 589.60L738.50 591.60L742.50 587.60L747.50 588.60L751.50 598.60L755.50 586.60L760.50 591.60L764.50 591.60L769.50 586.60L773.50 583.00L777.50 580.40L782.50 593.10L786.50 589.80L790.50 589.60L795.50 596.40L799.50 606.10L803.50 603.30L808.50 589.30L812.50 607.40L816.50 586.60L821.50 590.60L825.50 590.60L830.50 597.30L834.50 576.60L838.50 586.30L843.50 604.10L847.50 589.60L851.50 597.80L856.50 586.60L860.50 593.60L864.50 596.10L869.50 589.10L873.50 578.60L878.50 583.60L882.50 589.10L886.50 592.10L891.50 585.40L895.50 605.90L899.50 594.10L904.50 590.60L908.50 594.10L912.50 597.10L917.50 597.40L921.50 588.50L926.50 597.00L930.50 597.10L934.50 604.00L939.50 581.60L943.50 596.40L947.50 585.60L952.50 583.60L956.50 586.40L960.50 639.50L965.50 827.30L969.50 830.80L973.50 832.00L978.50 831.50L982.50 838.30L987.50 838.30L991.50 838.30L995.50 838.30L1000.50 838.30" stroke="#ff7f00" stroke-width="2.0" fill="none" stroke-linejoin="round"/>
<circle cx="75.50" cy="838.30" r="9.8" fill="#fff"/><circle cx="75.50" cy="838.30" r="5.5" fill="#ff7f00"/>
<circle cx="79.50" cy="838.30" r="9.8" fill="#fff"/><circle cx="79.50" cy="838.30" r="5.5" fill="#ff7f00"/>
<circle cx="84.50" cy="838.30" r="9.8" fill="#fff"/><circle cx="84.50" cy="838.30" r="5.5" fill="#ff7f00"/>
<circle cx="88.50" cy="838.30" r="9.8" fill="#fff"/><circle cx="88.50" cy="838.30" r="5.5" fill="#ff7f00"/>
<circle cx="92.50" cy="824.70" r="9.8" fill="#fff"/><circle cx="92.50" cy="824.70" r="5.5" fill="#ff7f00"/>
<circle cx="97.50" cy="827.20" r="9.8" fill="#fff"/><circle cx="97.50" cy="827.20" r="5.5" fill="#ff7f00"/>
<circle cx="101.50" cy="838.50" r="9.8" fill="#fff"/><circle cx="101.50" cy="838.50" r="5.5" fill="#ff7f00"/>
<circle cx="106.50" cy="784.40" r="9.8" fill="#fff"/><circle cx="106.50" cy="784.40" r="5.5" fill="#ff7f00"/>
<circle cx="110.50" cy="749.00" r="9.8" fill="#fff"/><circle cx="110.50" cy="749.00" r="5.5" fill="#ff7f00"/>
<circle cx="114.50" cy="748.50" r="9.8" fill="#fff"/><circle cx="114.50" cy="748.50" r="5.5" fill="#ff7f00"/>
<circle cx="119.50" cy="745.50" r="9.8" fill="#fff"/><circle cx="119.50" cy="745.50" r="5.5" fill="#ff7f00"/>
<circle cx="123.50" cy="745.50" r="9.8" fill="#fff"/><circle cx="123.50" cy="745.50" r="5.5" fill="#ff7f00"/>
<circle cx="127.50" cy="736.20" r="9.8" fill="#fff"/><circle cx="127.50" cy="736.20" r="5.5" fill="#ff7f00"/>
<circle cx="132.50" cy="685.40" r="9.8" fill="#fff"/><circle cx="132.50" cy="685.40" r="5.5" fill="#ff7f00"/>
<circle cx="136.50" cy="679.40" r="9.8" fill="#fff"/><circle cx="136.50" cy="679.40" r="5.5" fill="#ff7f00"/>
<circle cx="140.50" cy="665.40" r="9.8" fill="#fff"/><circle cx="140.50" cy="665.40" r="5.5" fill="#ff7f00"/>
<circle cx="145.50" cy="625.40" r="9.8" fill="#fff"/><circle cx="145.50" cy="625.40" r="5.5" fill="#ff7f00"/>
<circle cx="149.50" cy="600.00" r="9.8" fill="#fff"/><circle cx="149.50" cy="600.00" r="5.5" fill="#ff7f00"/>
<circle cx="154.50" cy="610.40" r="9.8" fill="#fff"/><circle cx="154.50" cy="610.40" r="5.5" fill="#ff7f00"/>
<circle cx="158.50" cy="580.70" r="9.8" fill="#fff"/><circle cx="158.50" cy="580.70" r="5.5" fill="#ff7f00"/>
<circle cx="162.50" cy="560.20" r="9.8" fill="#fff"/><circle cx="162.50" cy="560.20" r="5.5" fill="#ff7f00"/>
<circle cx="167.50" cy="577.20" r="9.8" fill="#fff"/><circle cx="167.50" cy="577.20" r="5.5" fill="#ff7f00"/>
<circle cx="171.50" cy="565.40" r="9.8" fill="#fff"/><circle cx="171.50" cy="565.40" r="5.5" fill="#ff7f00"/>
<circle cx="175.50" cy="596.60" r="9.8" fill="#fff"/><circle cx="175.50" cy="596.60" r="5.5" fill="#ff7f00"/>
<circle cx="180.50" cy="599.60" r="9.8" fill="#fff"/><circle cx="180.50" cy="599.60" r="5.5" fill="#ff7f00"/>
<circle cx="184.50" cy="604.60" r="9.8" fill="#fff"/><circle cx="184.50" cy="604.60" r="5.5" fill="#ff7f00"/>
<circle cx="188.50" cy="610.10" r="9.8" fill="#fff"/><circle cx="188.50" cy="610.10" r="5.5" fill="#ff7f00"/>
<circle cx="193.50" cy="607.30" r="9.8" fill="#fff"/><circle cx="193.50" cy="607.30" r="5.5" fill="#ff7f00"/>
<circle cx="197.50" cy="601.40" r="9.8" fill="#fff"/><circle cx="197.50" cy="601.40" r="5.5" fill="#ff7f00"/>
<circle cx="202.50" cy="623.60" r="9.8" fill="#fff"/><circle cx="202.50" cy="623.60" r="5.5" fill="#ff7f00"/>
<circle cx="206.50" cy="598.40" r="9.8" fill="#fff"/><circle cx="206.50" cy="598.40" r="5.5" fill="#ff7f00"/>
<circle cx="210.50" cy="617.60" r="9.8" fill="#fff"/><circle cx="210.50" cy="617.60" r="5.5" fill="#ff7f00"/>
<circle cx="215.50" cy="600.30" r="9.8" fill="#fff"/><circle cx="215.50" cy="600.30" r="5.5" fill="#ff7f00"/>
<circle cx="219.50" cy="582.50" r="9.8" fill="#fff"/><circle cx="219.50" cy="582.50" r="5.5" fill="#ff7f00"/>
<circle cx="223.50" cy="582.40" r="9.8" fill="#fff"/><circle cx="223.50" cy="582.40" r="5.5" fill="#ff7f00"/>
<circle cx="228.50" cy="600.30" r="9.8" fill="#fff"/><circle cx="228.50" cy="600.30" r="5.5" fill="#ff7f00"/>
<circle cx="232.50" cy="595.50" r="9.8" fill="#fff"/><circle cx="232.50" cy="595.50" r="5.5" fill="#ff7f00"/>
<circle cx="236.50" cy="603.50" r="9.8" fill="#fff"/><circle cx="236.50" cy="603.50" r="5.5" fill="#ff7f00"/>
<circle cx="241.50" cy="591.60" r="9.8" fill="#fff"/><circle cx="241.50" cy="591.60" r="5.5" fill="#ff7f00"/>
<circle cx="245.50" cy="599.10" r="9.8" fill="#fff"/><circle cx="245.50" cy="599.10" r="5.5" fill="#ff7f00"/>
<circle cx="249.50" cy="597.10" r="9.8" fill="#fff"/><circle cx="249.50" cy="597.10" r="5.5" fill="#ff7f00"/>
<circle cx="254.50" cy="592.60" r="9.8" fill="#fff"/><circle cx="254.50" cy="592.60" r="5.5" fill="#ff7f00"/>
<circle cx="258.50" cy="597.10" r="9.8" fill="#fff"/><circle cx="258.50" cy="597.10" r="5.5" fill="#ff7f00"/>
<circle cx="263.50" cy="588.60" r="9.8" fill="#fff"/><circle cx="263.50" cy="588.60" r="5.5" fill="#ff7f00"/>
<circle cx="267.50" cy="592.40" r="9.8" fill="#fff"/><circle cx="267.50" cy="592.40" r="5.5" fill="#ff7f00"/>
<circle cx="271.50" cy="606.40" r="9.8" fill="#fff"/><circle cx="271.50" cy="606.40" r="5.5" fill="#ff7f00"/>
<circle cx="276.50" cy="586.60" r="9.8" fill="#fff"/><circle cx="276.50" cy="586.60" r="5.5" fill="#ff7f00"/>
<circle cx="280.50" cy="589.60" r="9.8" fill="#fff"/><circle cx="280.50" cy="589.60" r="5.5" fill="#ff7f00"/>
<circle cx="284.50" cy="594.10" r="9.8" fill="#fff"/><circle cx="284.50" cy="594.10" r="5.5" fill="#ff7f00"/>
<circle cx="289.50" cy="592.30" r="9.8" fill="#fff"/><circle cx="289.50" cy="592.30" r="5.5" fill="#ff7f00"/>
<circle cx="293.50" cy="606.40" r="9.8" fill="#fff"/><circle cx="293.50" cy="606.40" r="5.5" fill="#ff7f00"/>
<circle cx="297.50" cy="589.60" r="9.8" fill="#fff"/><circle cx="297.50" cy="589.60" r="5.5" fill="#ff7f00"/>
<circle cx="302.50" cy="590.00" r="9.8" fill="#fff"/><circle cx="302.50" cy="590.00" r="5.5" fill="#ff7f00"/>
<circle cx="306.50" cy="590.60" r="9.8" fill="#fff"/><circle cx="306.50" cy="590.60" r="5.5" fill="#ff7f00"/>
<circle cx="311.50" cy="584.60" r="9.8" fill="#fff"/><circle cx="311.50" cy="584.60" r="5.5" fill="#ff7f00"/>
<circle cx="315.50" cy="607.60" r="9.8" fill="#fff"/><circle cx="315.50" cy="607.60" r="5.5" fill="#ff7f00"/>
<circle cx="319.50" cy="589.60" r="9.8" fill="#fff"/><circle cx="319.50" cy="589.60" r="5.5" fill="#ff7f00"/>
<circle cx="324.50" cy="604.40" r="9.8" fill="#fff"/><circle cx="324.50" cy="604.40" r="5.5" fill="#ff7f00"/>
<circle cx="328.50" cy="580.20" r="9.8" fill="#fff"/><circle cx="328.50" cy="580.20" r="5.5" fill="#ff7f00"/>
<circle cx="332.50" cy="578.60" r="9.8" fill="#fff"/><circle cx="332.50" cy="578.60" r="5.5" fill="#ff7f00"/>
<circle cx="337.50" cy="589.30" r="9.8" fill="#fff"/><circle cx="337.50" cy="589.30" r="5.5" fill="#ff7f00"/>
<circle cx="341.50" cy="588.60" r="9.8" fill="#fff"/><circle cx="341.50" cy="588.60" r="5.5" fill="#ff7f00"/>
<circle cx="345.50" cy="590.60" r="9.8" fill="#fff"/><circle cx="345.50" cy="590.60" r="5.5" fill="#ff7f00"/>
<circle cx="350.50" cy="600.10" r="9.8" fill="#fff"/><circle cx="350.50" cy="600.10" r="5.5" fill="#ff7f00"/>
<circle cx="354.50" cy="591.10" r="9.8" fill="#fff"/><circle cx="354.50" cy="591.10" r="5.5" fill="#ff7f00"/>
<circle cx="359.50" cy="589.60" r="9.8" fill="#fff"/><circle cx="359.50" cy="589.60" r="5.5" fill="#ff7f00"/>
<circle cx="363.50" cy="598.00" r="9.8" fill="#fff"/><circle cx="363.50" cy="598.00" r="5.5" fill="#ff7f00"/>
<circle cx="367.50" cy="598.60" r="9.8" fill="#fff"/><circle cx="367.50" cy="598.60" r="5.5" fill="#ff7f00"/>
<circle cx="372.50" cy="577.60" r="9.8" fill="#fff"/><circle cx="372.50" cy="577.60" r="5.5" fill="#ff7f00"/>
<circle cx="376.50" cy="589.00" r="9.8" fill="#fff"/><circle cx="376.50" cy="589.00" r="5.5" fill="#ff7f00"/>
<circle cx="380.50" cy="585.10" r="9.8" fill="#fff"/><circle cx="380.50" cy="585.10" r="5.5" fill="#ff7f00"/>
<circle cx="385.50" cy="594.10" r="9.8" fill="#fff"/><circle cx="385.50" cy="594.10" r="5.5" fill="#ff7f00"/>
<circle cx="389.50" cy="588.30" r="9.8" fill="#fff"/><circle cx="389.50" cy="588.30" r="5.5" fill="#ff7f00"/>
<circle cx="393.50" cy="601.90" r="9.8" fill="#fff"/><circle cx="393.50" cy="601.90" r="5.5" fill="#ff7f00"/>
<circle cx="398.50" cy="589.60" r="9.8" fill="#fff"/><circle cx="398.50" cy="589.60" r="5.5" fill="#ff7f00"/>
<circle cx="402.50" cy="603.60" r="9.8" fill="#fff"/><circle cx="402.50" cy="603.60" r="5.5" fill="#ff7f00"/>
<circle cx="406.50" cy="598.60" r="9.8" fill="#fff"/><circle cx="406.50" cy="598.60" r="5.5" fill="#ff7f00"/>
<circle cx="411.50" cy="593.10" r="9.8" fill="#fff"/><circle cx="411.50" cy="593.10" r="5.5" fill="#ff7f00"/>
<circle cx="415.50" cy="598.10" r="9.8" fill="#fff"/><circle cx="415.50" cy="598.10" r="5.5" fill="#ff7f00"/>
<circle cx="420.50" cy="595.60" r="9.8" fill="#fff"/><circle cx="420.50" cy="595.60" r="5.5" fill="#ff7f00"/>
<circle cx="424.50" cy="587.60" r="9.8" fill="#fff"/><circle cx="424.50" cy="587.60" r="5.5" fill="#ff7f00"/>
<circle cx="428.50" cy="594.80" r="9.8" fill="#fff"/><circle cx="428.50" cy="594.80" r="5.5" fill="#ff7f00"/>
<circle cx="433.50" cy="582.10" r="9.8" fill="#fff"/><circle cx="433.50" cy="582.10" r="5.5" fill="#ff7f00"/>
<circle cx="437.50" cy="592.60" r="9.8" fill="#fff"/><circle cx="437.50" cy="592.60" r="5.5" fill="#ff7f00"/>
<circle cx="441.50" cy="586.60" r="9.8" fill="#fff"/><circle cx="441.50" cy="586.60" r="5.5" fill="#ff7f00"/>
<circle cx="446.50" cy="600.60" r="9.8" fill="#fff"/><circle cx="446.50" cy="600.60" r="5.5" fill="#ff7f00"/>
<circle cx="450.50" cy="592.80" r="9.8" fill="#fff"/><circle cx="450.50" cy="592.80" r="5.5" fill="#ff7f00"/>
<circle cx="454.50" cy="592.60" r="9.8" fill="#fff"/><circle cx="454.50" cy="592.60" r="5.5" fill="#ff7f00"/>
<circle cx="459.50" cy="584.10" r="9.8" fill="#fff"/><circle cx="459.50" cy="584.10" r="5.5" fill="#ff7f00"/>
<circle cx="463.50" cy="579.60" r="9.8" fill="#fff"/><circle cx="463.50" cy="579.60" r="5.5" fill="#ff7f00"/>
<circle cx="468.50" cy="588.90" r="9.8" fill="#fff"/><circle cx="468.50" cy="588.90" r="5.5" fill="#ff7f00"/>
<circle cx="472.50" cy="588.90" r="9.8" fill="#fff"/><circle cx="472.50" cy="588.90" r="5.5" fill="#ff7f00"/>
<circle cx="476.50" cy="592.20" r="9.8" fill="#fff"/><circle cx="476.50" cy="592.20" r="5.5" fill="#ff7f00"/>
<circle cx="481.50" cy="589.10" r="9.8" fill="#fff"/><circle cx="481.50" cy="589.10" r="5.5" fill="#ff7f00"/>
<circle cx="485.50" cy="596.10" r="9.8" fill="#fff"/><circle cx="485.50" cy="596.10" r="5.5" fill="#ff7f00"/>
<circle cx="489.50" cy="583.40" r="9.8" fill="#fff"/><circle cx="489.50" cy="583.40" r="5.5" fill="#ff7f00"/>
<circle cx="494.50" cy="594.40" r="9.8" fill="#fff"/><circle cx="494.50" cy="594.40" r="5.5" fill="#ff7f00"/>
<circle cx="498.50" cy="604.60" r="9.8" fill="#fff"/><circle cx="498.50" cy="604.60" r="5.5" fill="#ff7f00"/>
<circle cx="502.50" cy="599.60" r="9.8" fill="#fff"/><circle cx="502.50" cy="599.60" r="5.5" fill="#ff7f00"/>
<circle cx="507.50" cy="587.60" r="9.8" fill="#fff"/><circle cx="507.50" cy="587.60" r="5.5" fill="#ff7f00"/>
<circle cx="511.50" cy="587.60" r="9.8" fill="#fff"/><circle cx="511.50" cy="587.60" r="5.5" fill="#ff7f00"/>
<circle cx="516.50" cy="609.60" r="9.8" fill="#fff"/><circle cx="516.50" cy="609.60" r="5.5" fill="#ff7f00"/>
<circle cx="520.50" cy="590.60" r="9.8" fill="#fff"/><circle cx="520.50" cy="590.60" r="5.5" fill="#ff7f00"/>
<circle cx="524.50" cy="600.10" r="9.8" fill="#fff"/><circle cx="524.50" cy="600.10" r="5.5" fill="#ff7f00"/>
<circle cx="529.50" cy="590.60" r="9.8" fill="#fff"/><circle cx="529.50" cy="590.60" r="5.5" fill="#ff7f00"/>
<circle cx="533.50" cy="594.30" r="9.8" fill="#fff"/><circle cx="533.50" cy="594.30" r="5.5" fill="#ff7f00"/>
<circle cx="537.50" cy="609.40" r="9.8" fill="#fff"/><circle cx="537.50" cy="609.40" r="5.5" fill="#ff7f00"/>
<circle cx="542.50" cy="595.10" r="9.8" fill="#fff"/><circle cx="542.50" cy="595.10" r="5.5" fill="#ff7f00"/>
<circle cx="546.50" cy="586.60" r="9.8" fill="#fff"/><circle cx="546.50" cy="586.60" r="5.5" fill="#ff7f00"/>
<circle cx="550.50" cy="590.60" r="9.8" fill="#fff"/><circle cx="550.50" cy="590.60" r="5.5" fill="#ff7f00"/>
<circle cx="555.50" cy="598.60" r="9.8" fill="#fff"/><circle cx="555.50" cy="598.60" r="5.5" fill="#ff7f00"/>
<circle cx="559.50" cy="594.60" r="9.8" fill="#fff"/><circle cx="559.50" cy="594.60" r="5.5" fill="#ff7f00"/>
<circle cx="564.50" cy="598.30" r="9.8" fill="#fff"/><circle cx="564.50" cy="598.30" r="5.5" fill="#ff7f00"/>
<circle cx="568.50" cy="598.30" r="9.8" fill="#fff"/><circle cx="568.50" cy="598.30" r="5.5" fill="#ff7f00"/>
<circle cx="572.50" cy="596.30" r="9.8" fill="#fff"/><circle cx="572.50" cy="596.30" r="5.5" fill="#ff7f00"/>
<circle cx="577.50" cy="582.40" r="9.8" fill="#fff"/><circle cx="577.50" cy="582.40" r="5.5" fill="#ff7f00"/>
<circle cx="581.50" cy="605.60" r="9.8" fill="#fff"/><circle cx="581.50" cy="605.60" r="5.5" fill="#ff7f00"/>
<circle cx="585.50" cy="595.10" r="9.8" fill="#fff"/><circle cx="585.50" cy="595.10" r="5.5" fill="#ff7f00"/>
<circle cx="590.50" cy="592.60" r="9.8" fill="#fff"/><circle cx="590.50" cy="592.60" r="5.5" fill="#ff7f00"/>
<circle cx="594.50" cy="592.60" r="9.8" fill="#fff"/><circle cx="594.50" cy="592.60" r="5.5" fill="#ff7f00"/>
<circle cx="598.50" cy="597.60" r="9.8" fill="#fff"/><circle cx="598.50" cy="597.60" r="5.5" fill="#ff7f00"/>
<circle cx="603.50" cy="604.40" r="9.8" fill="#fff"/><circle cx="603.50" cy="604.40" r="5.5" fill="#ff7f00"/>
<circle cx="607.50" cy="583.80" r="9.8" fill="#fff"/><circle cx="607.50" cy="583.80" r="5.5" fill="#ff7f00"/>
<circle cx="612.50" cy="573.40" r="9.8" fill="#fff"/><circle cx="612.50" cy="573.40" r="5.5" fill="#ff7f00"/>
<circle cx="616.50" cy="587.60" r="9.8" fill="#fff"/><circle cx="616.50" cy="587.60" r="5.5" fill="#ff7f00"/>
<circle cx="620.50" cy="598.10" r="9.8" fill="#fff"/><circle cx="620.50" cy="598.10" r="5.5" fill="#ff7f00"/>
<circle cx="625.50" cy="591.60" r="9.8" fill="#fff"/><circle cx="625.50" cy="591.60" r="5.5" fill="#ff7f00"/>
<circle cx="629.50" cy="596.00" r="9.8" fill="#fff"/><circle cx="629.50" cy="596.00" r="5.5" fill="#ff7f00"/>
<circle cx="633.50" cy="596.10" r="9.8" fill="#fff"/><circle cx="633.50" cy="596.10" r="5.5" fill="#ff7f00"/>
<circle cx="638.50" cy="593.60" r="9.8" fill="#fff"/><circle cx="638.50" cy="593.60" r="5.5" fill="#ff7f00"/>
<circle cx="642.50" cy="596.30" r="9.8" fill="#fff"/><circle cx="642.50" cy="596.30" r="5.5" fill="#ff7f00"/>
<circle cx="646.50" cy="581.30" r="9.8" fill="#fff"/><circle cx="646.50" cy="581.30" r="5.5" fill="#ff7f00"/>
<circle cx="651.50" cy="595.30" r="9.8" fill="#fff"/><circle cx="651.50" cy="595.30" r="5.5" fill="#ff7f00"/>
<circle cx="655.50" cy="576.60" r="9.8" fill="#fff"/><circle cx="655.50" cy="576.60" r="5.5" fill="#ff7f00"/>
<circle cx="659.50" cy="586.10" r="9.8" fill="#fff"/><circle cx="659.50" cy="586.10" r="5.5" fill="#ff7f00"/>
<circle cx="664.50" cy="598.00" r="9.8" fill="#fff"/><circle cx="664.50" cy="598.00" r="5.5" fill="#ff7f00"/>
<circle cx="668.50" cy="598.30" r="9.8" fill="#fff"/><circle cx="668.50" cy="598.30" r="5.5" fill="#ff7f00"/>
<circle cx="673.50" cy="585.60" r="9.8" fill="#fff"/><circle cx="673.50" cy="585.60" r="5.5" fill="#ff7f00"/>
<circle cx="677.50" cy="587.30" r="9.8" fill="#fff"/><circle cx="677.50" cy="587.30" r="5.5" fill="#ff7f00"/>
<circle cx="681.50" cy="597.80" r="9.8" fill="#fff"/><circle cx="681.50" cy="597.80" r="5.5" fill="#ff7f00"/>
<circle cx="686.50" cy="586.60" r="9.8" fill="#fff"/><circle cx="686.50" cy="586.60" r="5.5" fill="#ff7f00"/>
<circle cx="690.50" cy="594.10" r="9.8" fill="#fff"/><circle cx="690.50" cy="594.10" r="5.5" fill="#ff7f00"/>
<circle cx="694.50" cy="606.10" r="9.8" fill="#fff"/><circle cx="694.50" cy="606.10" r="5.5" fill="#ff7f00"/>
<circle cx="699.50" cy="593.60" r="9.8" fill="#fff"/><circle cx="699.50" cy="593.60" r="5.5" fill="#ff7f00"/>
<circle cx="703.50" cy="599.30" r="9.8" fill="#fff"/><circle cx="703.50" cy="599.30" r="5.5" fill="#ff7f00"/>
<circle cx="707.50" cy="593.60" r="9.8" fill="#fff"/><circle cx="707.50" cy="593.60" r="5.5" fill="#ff7f00"/>
<circle cx="712.50" cy="595.40" r="9.8" fill="#fff"/><circle cx="712.50" cy="595.40" r="5.5" fill="#ff7f00"/>
<circle cx="716.50" cy="598.60" r="9.8" fill="#fff"/><circle cx="716.50" cy="598.60" r="5.5" fill="#ff7f00"/>
<circle cx="721.50" cy="592.60" r="9.8" fill="#fff"/><circle cx="721.50" cy="592.60" r="5.5" fill="#ff7f00"/>
<circle cx="725.50" cy="595.60" r="9.8" fill="#fff"/><circle cx="725.50" cy="595.60" r="5.5" fill="#ff7f00"/>
<circle cx="729.50" cy="589.60" r="9.8" fill="#fff"/><circle cx="729.50" cy="589.60" r="5.5" fill="#ff7f00"/>
<circle cx="734.50" cy="589.60" r="9.8" fill="#fff"/><circle cx="734.50" cy="589.60" r="5.5" fill="#ff7f00"/>
<circle cx="738.50" cy="591.60" r="9.8" fill="#fff"/><circle cx="738.50" cy="591.60" r="5.5" fill="#ff7f00"/>
<circle cx="742.50" cy="587.60" r="9.8" fill="#fff"/><circle cx="742.50" cy="587.60" r="5.5" fill="#ff7f00"/>
<circle cx="747.50" cy="588.60" r="9.8" fill="#fff"/><circle cx="747.50" cy="588.60" r="5.5" fill="#ff7f00"/>
<circle cx="751.50" cy="598.60" r="9.8" fill="#fff"/><circle cx="751.50" cy="598.60" r="5.5" fill="#ff7f00"/>
<circle cx="755.50" cy="586.60" r="9.8" fill="#fff"/><circle cx="755.50" cy="586.60" r="5.5" fill="#ff7f00"/>
<circle cx="760.50" cy="591.60" r="9.8" fill="#fff"/><circle cx="760.50" cy="591.60" r="5.5" fill="#ff7f00"/>
<circle cx="764.50" cy="591.60" r="9.8" fill="#fff"/><circle cx="764.50" cy="591.60" r="5.5" fill="#ff7f00"/>
<circle cx="769.50" cy="586.60" r="9.8" fill="#fff"/><circle cx="769.50" cy="586.60" r="5.5" fill="#ff7f00"/>
<circle cx="773.50" cy="583.00" r="9.8" fill="#fff"/><circle cx="773.50" cy="583.00" r="5.5" fill="#ff7f00"/>
<circle cx="777.50" cy="580.40" r="9.8" fill="#fff"/><circle cx="777.50" cy="580.40" r="5.5" fill="#ff7f00"/>
<circle cx="782.50" cy="593.10" r="9.8" fill="#fff"/><circle cx="782.50" cy="593.10" r="5.5" fill="#ff7f00"/>
<circle cx="786.50" cy="589.80" r="9.8" fill="#fff"/><circle cx="786.50" cy="589.80" r="5.5" fill="#ff7f00"/>
<circle cx="790.50" cy="589.60" r="9.8" fill="#fff"/><circle cx="790.50" cy="589.60" r="5.5" fill="#ff7f00"/>
<circle cx="795.50" cy="596.40" r="9.8" fill="#fff"/><circle cx="795.50" cy="596.40" r="5.5" fill="#ff7f00"/>
<circle cx="799.50" cy="606.10" r="9.8" fill="#fff"/><circle cx="799.50" cy="606.10" r="5.5" fill="#ff7f00"/>
<circle cx="803.50" cy="603.30" r="9.8" fill="#fff"/><circle cx="803.50" cy="603.30" r="5.5" fill="#ff7f00"/>
<circle cx="808.50" cy="589.30" r="9.8" fill="#fff"/><circle cx="808.50" cy="589.30" r="5.5" fill="#ff7f00"/>
<circle cx="812.50" cy="607.40" r="9.8" fill="#fff"/><circle cx="812.50" cy="607.40" r="5.5" fill="#ff7f00"/>
<circle cx="816.50" cy="586.60" r="9.8" fill="#fff"/><circle cx="816.50" cy="586.60" r="5.5" fill="#ff7f00"/>
<circle cx="821.50" cy="590.60" r="9.8" fill="#fff"/><circle cx="821.50" cy="590.60" r="5.5" fill="#ff7f00"/>
<circle cx="825.50" cy="590.60" r="9.8" fill="#fff"/><circle cx="825.50" cy="590.60" r="5.5" fill="#ff7f00"/>
<circle cx="830.50" cy="597.30" r="9.8" fill="#fff"/><circle cx="830.50" cy="597.30" r="5.5" fill="#ff7f00"/>
<circle cx="834.50" cy="576.60" r="9.8" fill="#fff"/><circle cx="834.50" cy="576.60" r="5.5" fill="#ff7f00"/>
<circle cx="838.50" cy="586.30" r="9.8" fill="#fff"/><circle cx="838.50" cy="586.30" r="5.5" fill="#ff7f00"/>
<circle cx="843.50" cy="604.10" r="9.8" fill="#fff"/><circle cx="843.50" cy="604.10" r="5.5" fill="#ff7f00"/>
<circle cx="847.50" cy="589.60" r="9.8" fill="#fff"/><circle cx="847.50" cy="589.60" r="5.5" fill="#ff7f00"/>
<circle cx="851.50" cy="597.80" r="9.8" fill="#fff"/><circle cx="851.50" cy="597.80" r="5.5" fill="#ff7f00"/>
<circle cx="856.50" cy="586.60" r="9.8" fill="#fff"/><circle cx="856.50" cy="586.60" r="5.5" fill="#ff7f00"/>
<circle cx="860.50" cy="593.60" r="9.8" fill="#fff"/><circle cx="860.50" cy="593.60" r="5.5" fill="#ff7f00"/>
<circle cx="864.50" cy="596.10" r="9.8" fill="#fff"/><circle cx="864.50" cy="596.10" r="5.5" fill="#ff7f00"/>
<circle cx="869.50" cy="589.10" r="9.8" fill="#fff"/><circle cx="869.50" cy="589.10" r="5.5" fill="#ff7f00"/>
<circle cx="873.50" cy="578.60" r="9.8" fill="#fff"/><circle cx="873.50" cy="578.60" r="5.5" fill="#ff7f00"/>
<circle cx="878.50" cy="583.60" r="9.8" fill="#fff"/><circle cx="878.50" cy="583.60" r="5.5" fill="#ff7f00"/>
<circle cx="882.50" cy="589.10" r="9.8" fill="#fff"/><circle cx="882.50" cy="589.10" r="5.5" fill="#ff7f00"/>
<circle cx="886.50" cy="592.10" r="9.8" fill="#fff"/><circle cx="886.50" cy="592.10" r="5.5" fill="#ff7f00"/>
<circle cx="891.50" cy="585.40" r="9.8" fill="#fff"/><circle cx="891.50" cy="585.40" r="5.5" fill="#ff7f00"/>
<circle cx="895.50" cy="605.90" r="9.8" fill="#fff"/><circle cx="895.50" cy="605.90" r="5.5" fill="#ff7f00"/>
<circle cx="899.50" cy="594.10" r="9.8" fill="#fff"/><circle cx="899.50" cy="594.10" r="5.5" fill="#ff7f00"/>
<circle cx="904.50" cy="590.60" r="9.8" fill="#fff"/><circle cx="904.50" cy="590.60" r="5.5" fill="#ff7f00"/>
<circle cx="908.50" cy="594.10" r="9.8" fill="#fff"/><circle cx="908.50" cy="594.10" r="5.5" fill="#ff7f00"/>
<circle cx="912.50" cy="597.10" r="9.8" fill="#fff"/><circle cx="912.50" cy="597.10" r="5.5" fill="#ff7f00"/>
<circle cx="917.50" cy="597.40" r="9.8" fill="#fff"/><circle cx="917.50" cy="597.40" r="5.5" fill="#ff7f00"/>
<circle cx="921.50" cy="588.50" r="9.8" fill="#fff"/><circle cx="921.50" cy="588.50" r="5.5" fill="#ff7f00"/>
<circle cx="926.50" cy="597.00" r="9.8" fill="#fff"/><circle cx="926.50" cy="597.00" r="5.5" fill="#ff7f00"/>
<circle cx="930.50" cy="597.10" r="9.8" fill="#fff"/><circle cx="930.50" cy="597.10" r="5.5" fill="#ff7f00"/>
<circle cx="934.50" cy="604.00" r="9.8" fill="#fff"/><circle cx="934.50" cy="604.00" r="5.5" fill="#ff7f00"/>
<circle cx="939.50" cy="581.60" r="9.8" fill="#fff"/><circle cx="939.50" cy="581.60" r="5.5" fill="#ff7f00"/>
<circle cx="943.50" cy="596.40" r="9.8" fill="#fff"/><circle cx="943.50" cy="596.40" r="5.5" fill="#ff7f00"/>
<circle cx="947.50" cy="585.60" r="9.8" fill="#fff"/><circle cx="947.50" cy="585.60" r="5.5" fill="#ff7f00"/>
<circle cx="952.50" cy="583.60" r="9.8" fill="#fff"/><circle cx="952.50" cy="583.60" r="5.5" fill="#ff7f00"/>
<circle cx="956.50" cy="586.40" r="9.8" fill="#fff"/><circle cx="956.50" cy="586.40" r="5.5" fill="#ff7f00"/>
<circle cx="960.50" cy="639.50" r="9.8" fill="#fff"/><circle cx="960.50" cy="639.50" r="5.5" fill="#ff7f00"/>
<circle cx="965.50" cy="827.30" r="9.8" fill="#fff"/><circle cx="965.50" cy="827.30" r="5.5" fill="#ff7f00"/>
<circle cx="969.50" cy="830.80" r="9.8" fill="#fff"/><circle cx="969.50" cy="830.80" r="5.5" fill="#ff7f00"/>
<circle cx="973.50" cy="832.00" r="9.8" fill="#fff"/><circle cx="973.50" cy="832.00" r="5.5" fill="#ff7f00"/>
<circle cx="978.50" cy="831.50" r="9.8" fill="#fff"/><circle cx="978.50" cy="831.50" r="5.5" fill="#ff7f00"/>
<circle cx="982.50" cy="838.30" r="9.8" fill="#fff"/><circle cx="982.50" cy="838.30" r="5.5" fill="#ff7f00"/>
<circle cx="987.50" cy="838.30" r="9.8" fill="#fff"/><circle cx="987.50" cy="838.30" r="5.5" fill="#ff7f00"/>
<circle cx="991.50" cy="838.30" r="9.8" fill="#fff"/><circle cx="991.50" cy="838.30" r="5.5" fill="#ff7f00"/>
<circle cx="995.50" cy="838.30" r="9.8" fill="#fff"/><circle cx="995.50" cy="838.30" r="5.5" fill="#ff7f00"/>
<circle cx="1000.50" cy="838.30" r="9.8" fill="#fff"/><circle cx="1000.50" cy="838.30" r="5.5" fill="#ff7f00"/>
<path d="M75.50 838.50L79.50 838.50L84.50 838.50L88.50 838.50L92.50 838.50L97.50 838.50L101.50 838.50L106.50 838.50L110.50 838.50L114.50 838.50L119.50 838.50L123.50 838.50L127.50 838.50L132.50 838.50L136.50 838.50L140.50 838.50L145.50 838.50L149.50 838.50L154.50 838.50L158.50 838.50L162.50 838.50L167.50 838.50L171.50 838.50L175.50 838.50L180.50 838.50L184.50 838.50L188.50 838.50L193.50 838.50L197.50 838.50L202.50 838.50L206.50 838.50L210.50 838.50L215.50 838.50L219.50 838.50L223.50 838.50L228.50 838.50L232.50 838.50L236.50 838.50L241.50 838.50L245.50 838.50L249.50 838.50L254.50 838.50L258.50 838.50L263.50 838.50L267.50 838.50L271.50 838.50L276.50 838.50L280.50 838.50L284.50 838.50L289.50 838.50L293.50 838.50L297.50 838.50L302.50 838.50L306.50 838.50L311.50 838.50L315.50 838.50L319.50 838.50L324.50 838.50L328.50 838.50L332.50 838.50L337.50 838.50L341.50 838.50L345.50 838.50L350.50 838.50L354.50 838.50L359.50 838.50L363.50 838.50L367.50 838.50L372.50 838.50L376.50 838.50L380.50 838.50L385.50 838.50L389.50 838.50L393.50 838.50L398.50 838.50L402.50 838.50L406.50 838.50L411.50 838.50L415.50 838.50L420.50 838.50L424.50 838.50L428.50 838.50L433.50 838.50L437.50 838.50L441.50 838.50L446.50 838.50L450.50 838.50L454.50 838.50L459.50 838.50L463.50 838.50L468.50 838.50L472.50 838.50L476.50 838.50L481.50 838.50L485.50 838.50L489.50 838.50L494.50 838.50L498.50 838.50L502.50 838.50L507.50 838.50L511.50 838.50L516.50 838.50L520.50 838.50L524.50 838.50L529.50 838.50L533.50 838.50L537.50 838.50L542.50 838.50L546.50 838.50L550.50 838.50L555.50 838.50L559.50 838.50L564.50 838.50L568.50 838.50L572.50 838.50L577.50 838.50L581.50 838.50L585.50 838.50L590.50 838.50L594.50 838.50L598.50 838.50L603.50 838.50L607.50 838.50L612.50 838.50L616.50 838.50L620.50 838.50L625.50 838.50L629.50 838.50L633.50 838.50L638.50 838.50L642.50 838.50L646.50 838.50L651.50 838.50L655.50 838.50L659.50 838.50L664.50 838.50L668.50 838.50L673.50 838.50L677.50 838.50L681.50 838.50L686.50 838.50L690.50 838.50L694.50 838.50L699.50 838.50L703.50 838.50L707.50 838.50L712.50 838.50L716.50 838.50L721.50 838.50L725.50 838.50L729.50 838.50L734.50 838.50L738.50 838.50L742.50 838.50L747.50 838.50L751.50 838.50L755.50 838.50L760.50 838.50L764.50 838.50L769.50 838.50L773.50 838.50L777.50 838.50L782.50 838.50L786.50 838.50L790.50 838.50L795.50 838.50L799.50 838.50L803.50 838.50L808.50 838.50L812.50 838.50L816.50 838.50L821.50 838.50L825.50 838.50L830.50 838.50L834.50 838.50L838.50 838.50L843.50 838.50L847.50 838.50L851.50 838.50L856.50 838.50L860.50 838.50L864.50 838.50L869.50 838.50L873.50 838.50L878.50 838.50L882.50 838.50L886.50 838.50L891.50 838.50L895.50 838.50L899.50 838.50L904.50 838.50L908.50 838.50L912.50 838.50L917.50 838.50L921.50 838.50L926.50 838.50L930.50 838.50L934.50 838.50L939.50 838.50L943.50 838.50L947.50 838.50L952.50 838.50L956.50 838.50L960.50 838.50L965.50 838.50L969.50 838.50L973.50 838.50L978.50 838.50L982.50 838.50L987.50 838.50L991.50 838.50L995.50 838.50L1000.50 838.50" stroke="#2ca02c" stroke-width="2.0" fill="none" stroke-linejoin="round"/>
<circle cx="75.50" cy="838.50" r="9.8" fill="#fff"/><circle cx="75.50" cy="838.50" r="5.5" fill="#2ca02c"/>
<circle cx="79.50" cy="838.50" r="9.8" fill="#fff"/><circle cx="79.50" cy="838.50" r="5.5" fill="#2ca02c"/>
<circle cx="84.50" cy="838.50" r="9.8" fill="#fff"/><circle cx="84.50" cy="838.50" r="5.5" fill="#2ca02c"/>
<circle cx="88.50" cy="838.50" r="9.8" fill="#fff"/><circle cx="88.50" cy="838.50" r="5.5" fill="#2ca02c"/>
<circle cx="92.50" cy="838.50" r="9.8" fill="#fff"/><circle cx="92.50" cy="838.50" r="5.5" fill="#2ca02c"/>
<circle cx="97.50" cy="838.50" r="9.8" fill="#fff"/><circle cx="97.50" cy="838.50" r="5.5" fill="#2ca02c"/>
<circle cx="101.50" cy="838.50" r="9.8" fill="#fff"/><circle cx="101.50" cy="838.50" r="5.5" fill="#2ca02c"/>
<circle cx="106.50" cy="838.50" r="9.8" fill="#fff"/><circle cx="106.50" cy="838.50" r="5.5" fill="#2ca02c"/>
<circle cx="110.50" cy="838.50" r="9.8" fill="#fff"/><circle cx="110.50" cy="838.50" r="5.5" fill="#2ca02c"/>
<circle cx="114.50" cy="838.50" r="9.8" fill="#fff"/><circle cx="114.50" cy="838.50" r="5.5" fill="#2ca02c"/>
<circle cx="119.50" cy="838.50" r="9.8" fill="#fff"/><circle cx="119.50" cy="838.50" r="5.5" fill="#2ca02c"/>
<circle cx="123.50" cy="838.50" r="9.8" fill="#fff"/><circle cx="123.50" cy="838.50" r="5.5" fill="#2ca02c"/>
<circle cx="127.50" cy="838.50" r="9.8" fill="#fff"/><circle cx="127.50" cy="838.50" r="5.5" fill="#2ca02c"/>
<circle cx="132.50" cy="838.50" r="9.8" fill="#fff"/><circle cx="132.50" cy="838.50" r="5.5" fill="#2ca02c"/>
<circle cx="136.50" cy="838.50" r="9.8" fill="#fff"/><circle cx="136.50" cy="838.50" r="5.5" fill="#2ca02c"/>
<circle cx="140.50" cy="838.50" r="9.8" fill="#fff"/><circle cx="140.50" cy="838.50" r="5.5" fill="#2ca02c"/>
<circle cx="145.50" cy="838.50" r="9.8" fill="#fff"/><circle cx="145.50" cy="838.50" r="5.5" fill="#2ca02c"/>
<circle cx="149.50" cy="838.50" r="9.8" fill="#fff"/><circle cx="149.50" cy="838.50" r="5.5" fill="#2ca02c"/>
<circle cx="154.50" cy="838.50" r="9.8" fill="#fff"/><circle cx="154.50" cy="838.50" r="5.5" fill="#2ca02c"/>
<circle cx="158.50" cy="838.50" r="9.8" fill="#fff"/><circle cx="158.50" cy="838.50" r="5.5" fill="#2ca02c"/>
<circle cx="162.50" cy="838.50" r="9.8" fill="#fff"/><circle cx="162.50" cy="838.50" r="5.5" fill="#2ca02c"/>
<circle cx="167.50" cy="838.50" r="9.8" fill="#fff"/><circle cx="167.50" cy="838.50" r="5.5" fill="#2ca02c"/>
<circle cx="171.50" cy="838.50" r="9.8" fill="#fff"/><circle cx="171.50" cy="838.50" r="5.5" fill="#2ca02c"/>
<circle cx="175.50" cy="838.50" r="9.8" fill="#fff"/><circle cx="175.50" cy="838.50" r="5.5" fill="#2ca02c"/>
<circle cx="180.50" cy="838.50" r="9.8" fill="#fff"/><circle cx="180.50" cy="838.50" r="5.5" fill="#2ca02c"/>
<circle cx="184.50" cy="838.50" r="9.8" fill="#fff"/><circle cx="184.50" cy="838.50" r="5.5" fill="#2ca02c"/>
<circle cx="188.50" cy="838.50" r="9.8" fill="#fff"/><circle cx="188.50" cy="838.50" r="5.5" fill="#2ca02c"/>
<circle cx="193.50" cy="838.50" r="9.8" fill="#fff"/><circle cx="193.50" cy="838.50" r="5.5" fill="#2ca02c"/>
<circle cx="197.50" cy="838.50" r="9.8" fill="#fff"/><circle cx="197.50" cy="838.50" r="5.5" fill="#2ca02c"/>
<circle cx="202.50" cy="838.50" r="9.8" fill="#fff"/><circle cx="202.50" cy="838.50" r="5.5" fill="#2ca02c"/>
<circle cx="206.50" cy="838.50" r="9.8" fill="#fff"/><circle cx="206.50" cy="838.50" r="5.5" fill="#2ca02c"/>
<circle cx="210.50" cy="838.50" r="9.8" fill="#fff"/><circle cx="210.50" cy="838.50" r="5.5" fill="#2ca02c"/>
<circle cx="215.50" cy="838.50" r="9.8" fill="#fff"/><circle cx="215.50" cy="838.50" r="5.5" fill="#2ca02c"/>
<circle cx="219.50" cy="838.50" r="9.8" fill="#fff"/><circle cx="219.50" cy="838.50" r="5.5" fill="#2ca02c"/>
<circle cx="223.50" cy="838.50" r="9.8" fill="#fff"/><circle cx="223.50" cy="838.50" r="5.5" fill="#2ca02c"/>
<circle cx="228.50" cy="838.50" r="9.8" fill="#fff"/><circle cx="228.50" cy="838.50" r="5.5" fill="#2ca02c"/>
<circle cx="232.50" cy="838.50" r="9.8" fill="#fff"/><circle cx="232.50" cy="838.50" r="5.5" fill="#2ca02c"/>
<circle cx="236.50" cy="838.50" r="9.8" fill="#fff"/><circle cx="236.50" cy="838.50" r="5.5" fill="#2ca02c"/>
<circle cx="241.50" cy="838.50" r="9.8" fill="#fff"/><circle cx="241.50" cy="838.50" r="5.5" fill="#2ca02c"/>
<circle cx="245.50" cy="838.50" r="9.8" fill="#fff"/><circle cx="245.50" cy="838.50" r="5.5" fill="#2ca02c"/>
<circle cx="249.50" cy="838.50" r="9.8" fill="#fff"/><circle cx="249.50" cy="838.50" r="5.5" fill="#2ca02c"/>
<circle cx="254.50" cy="838.50" r="9.8" fill="#fff"/><circle cx="254.50" cy="838.50" r="5.5" fill="#2ca02c"/>
<circle cx="258.50" cy="838.50" r="9.8" fill="#fff"/><circle cx="258.50" cy="838.50" r="5.5" fill="#2ca02c"/>
<circle cx="263.50" cy="838.50" r="9.8" fill="#fff"/><circle cx="263.50" cy="838.50" r="5.5" fill="#2ca02c"/>
<circle cx="267.50" cy="838.50" r="9.8" fill="#fff"/><circle cx="267.50" cy="838.50" r="5.5" fill="#2ca02c"/>
<circle cx="271.50" cy="838.50" r="9.8" fill="#fff"/><circle cx="271.50" cy="838.50" r="5.5" fill="#2ca02c"/>
<circle cx="276.50" cy="838.50" r="9.8" fill="#fff"/><circle cx="276.50" cy="838.50" r="5.5" fill="#2ca02c"/>
<circle cx="280.50" cy="838.50" r="9.8" fill="#fff"/><circle cx="280.50" cy="838.50" r="5.5" fill="#2ca02c"/>
<circle cx="284.50" cy="838.50" r="9.8" fill="#fff"/><circle cx="284.50" cy="838.50" r="5.5" fill="#2ca02c"/>
<circle cx="289.50" cy="838.50" r="9.8" fill="#fff"/><circle cx="289.50" cy="838.50" r="5.5" fill="#2ca02c"/>
<circle cx="293.50" cy="838.50" r="9.8" fill="#fff"/><circle cx="293.50" cy="838.50" r="5.5" fill="#2ca02c"/>
<circle cx="297.50" cy="838.50" r="9.8" fill="#fff"/><circle cx="297.50" cy="838.50" r="5.5" fill="#2ca02c"/>
<circle cx="302.50" cy="838.50" r="9.8" fill="#fff"/><circle cx="302.50" cy="838.50" r="5.5" fill="#2ca02c"/>
<circle cx="306.50" cy="838.50" r="9.8" fill="#fff"/><circle cx="306.50" cy="838.50" r="5.5" fill="#2ca02c"/>
<circle cx="311.50" cy="838.50" r="9.8" fill="#fff"/><circle cx="311.50" cy="838.50" r="5.5" fill="#2ca02c"/>
<circle cx="315.50" cy="838.50" r="9.8" fill="#fff"/><circle cx="315.50" cy="838.50" r="5.5" fill="#2ca02c"/>
<circle cx="319.50" cy="838.50" r="9.8" fill="#fff"/><circle cx="319.50" cy="838.50" r="5.5" fill="#2ca02c"/>
<circle cx="324.50" cy="838.50" r="9.8" fill="#fff"/><circle cx="324.50" cy="838.50" r="5.5" fill="#2ca02c"/>
<circle cx="328.50" cy="838.50" r="9.8" fill="#fff"/><circle cx="328.50" cy="838.50" r="5.5" fill="#2ca02c"/>
<circle cx="332.50" cy="838.50" r="9.8" fill="#fff"/><circle cx="332.50" cy="838.50" r="5.5" fill="#2ca02c"/>
<circle cx="337.50" cy="838.50" r="9.8" fill="#fff"/><circle cx="337.50" cy="838.50" r="5.5" fill="#2ca02c"/>
<circle cx="341.50" cy="838.50" r="9.8" fill="#fff"/><circle cx="341.50" cy="838.50" r="5.5" fill="#2ca02c"/>
<circle cx="345.50" cy="838.50" r="9.8" fill="#fff"/><circle cx="345.50" cy="838.50" r="5.5" fill="#2ca02c"/>
<circle cx="350.50" cy="838.50" r="9.8" fill="#fff"/><circle cx="350.50" cy="838.50" r="5.5" fill="#2ca02c"/>
<circle cx="354.50" cy="838.50" r="9.8" fill="#fff"/><circle cx="354.50" cy="838.50" r="5.5" fill="#2ca02c"/>
<circle cx="359.50" cy="838.50" r="9.8" fill="#fff"/><circle cx="359.50" cy="838.50" r="5.5" fill="#2ca02c"/>
<circle cx="363.50" cy="838.50" r="9.8" fill="#fff"/><circle cx="363.50" cy="838.50" r="5.5" fill="#2ca02c"/>
<circle cx="367.50" cy="838.50" r="9.8" fill="#fff"/><circle cx="367.50" cy="838.50" r="5.5" fill="#2ca02c"/>
<circle cx="372.50" cy="838.50" r="9.8" fill="#fff"/><circle cx="372.50" cy="838.50" r="5.5" fill="#2ca02c"/>
<circle cx="376.50" cy="838.50" r="9.8" fill="#fff"/><circle cx="376.50" cy="838.50" r="5.5" fill="#2ca02c"/>
<circle cx="380.50" cy="838.50" r="9.8" fill="#fff"/><circle cx="380.50" cy="838.50" r="5.5" fill="#2ca02c"/>
<circle cx="385.50" cy="838.50" r="9.8" fill="#fff"/><circle cx="385.50" cy="838.50" r="5.5" fill="#2ca02c"/>
<circle cx="389.50" cy="838.50" r="9.8" fill="#fff"/><circle cx="389.50" cy="838.50" r="5.5" fill="#2ca02c"/>
<circle cx="393.50" cy="838.50" r="9.8" fill="#fff"/><circle cx="393.50" cy="838.50" r="5.5" fill="#2ca02c"/>
<circle cx="398.50" cy="838.50" r="9.8" fill="#fff"/><circle cx="398.50" cy="838.50" r="5.5" fill="#2ca02c"/>
<circle cx="402.50" cy="838.50" r="9.8" fill="#fff"/><circle cx="402.50" cy="838.50" r="5.5" fill="#2ca02c"/>
<circle cx="406.50" cy="838.50" r="9.8" fill="#fff"/><circle cx="406.50" cy="838.50" r="5.5" fill="#2ca02c"/>
<circle cx="411.50" cy="838.50" r="9.8" fill="#fff"/><circle cx="411.50" cy="838.50" r="5.5" fill="#2ca02c"/>
<circle cx="415.50" cy="838.50" r="9.8" fill="#fff"/><circle cx="415.50" cy="838.50" r="5.5" fill="#2ca02c"/>
<circle cx="420.50" cy="838.50" r="9.8" fill="#fff"/><circle cx="420.50" cy="838.50" r="5.5" fill="#2ca02c"/>
<circle cx="424.50" cy="838.50" r="9.8" fill="#fff"/><circle cx="424.50" cy="838.50" r="5.5" fill="#2ca02c"/>
<circle cx="428.50" cy="838.50" r="9.8" fill="#fff"/><circle cx="428.50" cy="838.50" r="5.5" fill="#2ca02c"/>
<circle cx="433.50" cy="838.50" r="9.8" fill="#fff"/><circle cx="433.50" cy="838.50" r="5.5" fill="#2ca02c"/>
<circle cx="437.50" cy="838.50" r="9.8" fill="#fff"/><circle cx="437.50" cy="838.50" r="5.5" fill="#2ca02c"/>
<circle cx="441.50" cy="838.50" r="9.8" fill="#fff"/><circle cx="441.50" cy="838.50" r="5.5" fill="#2ca02c"/>
<circle cx="446.50" cy="838.50" r="9.8" fill="#fff"/><circle cx="446.50" cy="838.50" r="5.5" fill="#2ca02c"/>
<circle cx="450.50" cy="838.50" r="9.8" fill="#fff"/><circle cx="450.50" cy="838.50" r="5.5" fill="#2ca02c"/>
<circle cx="454.50" cy="838.50" r="9.8" fill="#fff"/><circle cx="454.50" cy="838.50" r="5.5" fill="#2ca02c"/>
<circle cx="459.50" cy="838.50" r="9.8" fill="#fff"/><circle cx="459.50" cy="838.50" r="5.5" fill="#2ca02c"/>
<circle cx="463.50" cy="838.50" r="9.8" fill="#fff"/><circle cx="463.50" cy="838.50" r="5.5" fill="#2ca02c"/>
<circle cx="468.50" cy="838.50" r="9.8" fill="#fff"/><circle cx="468.50" cy="838.50" r="5.5" fill="#2ca02c"/>
<circle cx="472.50" cy="838.50" r="9.8" fill="#fff"/><circle cx="472.50" cy="838.50" r="5.5" fill="#2ca02c"/>
<circle cx="476.50" cy="838.50" r="9.8" fill="#fff"/><circle cx="476.50" cy="838.50" r="5.5" fill="#2ca02c"/>
<circle cx="481.50" cy="838.50" r="9.8" fill="#fff"/><circle cx="481.50" cy="838.50" r="5.5" fill="#2ca02c"/>
<circle cx="485.50" cy="838.50" r="9.8" fill="#fff"/><circle cx="485.50" cy="838.50" r="5.5" fill="#2ca02c"/>
<circle cx="489.50" cy="838.50" r="9.8" fill="#fff"/><circle cx="489.50" cy="838.50" r="5.5" fill="#2ca02c"/>
<circle cx="494.50" cy="838.50" r="9.8" fill="#fff"/><circle cx="494.50" cy="838.50" r="5.5" fill="#2ca02c"/>
<circle cx="498.50" cy="838.50" r="9.8" fill="#fff"/><circle cx="498.50" cy="838.50" r="5.5" fill="#2ca02c"/>
<circle cx="502.50" cy="838.50" r="9.8" fill="#fff"/><circle cx="502.50" cy="838.50" r="5.5" fill="#2ca02c"/>
<circle cx="507.50" cy="838.50" r="9.8" fill="#fff"/><circle cx="507.50" cy="838.50" r="5.5" fill="#2ca02c"/>
<circle cx="511.50" cy="838.50" r="9.8" fill="#fff"/><circle cx="511.50" cy="838.50" r="5.5" fill="#2ca02c"/>
<circle cx="516.50" cy="838.50" r="9.8" fill="#fff"/><circle cx="516.50" cy="838.50" r="5.5" fill="#2ca02c"/>
<circle cx="520.50" cy="838.50" r="9.8" fill="#fff"/><circle cx="520.50" cy="838.50" r="5.5" fill="#2ca02c"/>
<circle cx="524.50" cy="838.50" r="9.8" fill="#fff"/><circle cx="524.50" cy="838.50" r="5.5" fill="#2ca02c"/>
<circle cx="529.50" cy="838.50" r="9.8" fill="#fff"/><circle cx="529.50" cy="838.50" r="5.5" fill="#2ca02c"/>
<circle cx="533.50" cy="838.50" r="9.8" fill="#fff"/><circle cx="533.50" cy="838.50" r="5.5" fill="#2ca02c"/>
<circle cx="537.50" cy="838.50" r="9.8" fill="#fff"/><circle cx="537.50" cy="838.50" r="5.5" fill="#2ca02c"/>
<circle cx="542.50" cy="838.50" r="9.8" fill="#fff"/><circle cx="542.50" cy="838.50" r="5.5" fill="#2ca02c"/>
<circle cx="546.50" cy="838.50" r="9.8" fill="#fff"/><circle cx="546.50" cy="838.50" r="5.5" fill="#2ca02c"/>
<circle cx="550.50" cy="838.50" r="9.8" fill="#fff"/><circle cx="550.50" cy="838.50" r="5.5" fill="#2ca02c"/>
<circle cx="555.50" cy="838.50" r="9.8" fill="#fff"/><circle cx="555.50" cy="838.50" r="5.5" fill="#2ca02c"/>
<circle cx="559.50" cy="838.50" r="9.8" fill="#fff"/><circle cx="559.50" cy="838.50" r="5.5" fill="#2ca02c"/>
<circle cx="564.50" cy="838.50" r="9.8" fill="#fff"/><circle cx="564.50" cy="838.50" r="5.5" fill="#2ca02c"/>
<circle cx="568.50" cy="838.50" r="9.8" fill="#fff"/><circle cx="568.50" cy="838.50" r="5.5" fill="#2ca02c"/>
<circle cx="572.50" cy="838.50" r="9.8" fill="#fff"/><circle cx="572.50" cy="838.50" r="5.5" fill="#2ca02c"/>
<circle cx="577.50" cy="838.50" r="9.8" fill="#fff"/><circle cx="577.50" cy="838.50" r="5.5" fill="#2ca02c"/>
<circle cx="581.50" cy="838.50" r="9.8" fill="#fff"/><circle cx="581.50" cy="838.50" r="5.5" fill="#2ca02c"/>
<circle cx="585.50" cy="838.50" r="9.8" fill="#fff"/><circle cx="585.50" cy="838.50" r="5.5" fill="#2ca02c"/>
<circle cx="590.50" cy="838.50" r="9.8" fill="#fff"/><circle cx="590.50" cy="838.50" r="5.5" fill="#2ca02c"/>
<circle cx="594.50" cy="838.50" r="9.8" fill="#fff"/><circle cx="594.50" cy="838.50" r="5.5" fill="#2ca02c"/>
<circle cx="598.50" cy="838.50" r="9.8" fill="#fff"/><circle cx="598.50" cy="838.50" r="5.5" fill="#2ca02c"/>
<circle cx="603.50" cy="838.50" r="9.8" fill="#fff"/><circle cx="603.50" cy="838.50" r="5.5" fill="#2ca02c"/>
<circle cx="607.50" cy="838.50" r="9.8" fill="#fff"/><circle cx="607.50" cy="838.50" r="5.5" fill="#2ca02c"/>
<circle cx="612.50" cy="838.50" r="9.8" fill="#fff"/><circle cx="612.50" cy="838.50" r="5.5" fill="#2ca02c"/>
<circle cx="616.50" cy="838.50" r="9.8" fill="#fff"/><circle cx="616.50" cy="838.50" r="5.5" fill="#2ca02c"/>
<circle cx="620.50" cy="838.50" r="9.8" fill="#fff"/><circle cx="620.50" cy="838.50" r="5.5" fill="#2ca02c"/>
<circle cx="625.50" cy="838.50" r="9.8" fill="#fff"/><circle cx="625.50" cy="838.50" r="5.5" fill="#2ca02c"/>
<circle cx="629.50" cy="838.50" r="9.8" fill="#fff"/><circle cx="629.50" cy="838.50" r="5.5" fill="#2ca02c"/>
<circle cx="633.50" cy="838.50" r="9.8" fill="#fff"/><circle cx="633.50" cy="838.50" r="5.5" fill="#2ca02c"/>
<circle cx="638.50" cy="838.50" r="9.8" fill="#fff"/><circle cx="638.50" cy="838.50" r="5.5" fill="#2ca02c"/>
<circle cx="642.50" cy="838.50" r="9.8" fill="#fff"/><circle cx="642.50" cy="838.50" r="5.5" fill="#2ca02c"/>
<circle cx="646.50" cy="838.50" r="9.8" fill="#fff"/><circle cx="646.50" cy="838.50" r="5.5" fill="#2ca02c"/>
<circle cx="651.50" cy="838.50" r="9.8" fill="#fff"/><circle cx="651.50" cy="838.50" r="5.5" fill="#2ca02c"/>
<circle cx="655.50" cy="838.50" r="9.8" fill="#fff"/><circle cx="655.50" cy="838.50" r="5.5" fill="#2ca02c"/>
<circle cx="659.50" cy="838.50" r="9.8" fill="#fff"/><circle cx="659.50" cy="838.50" r="5.5" fill="#2ca02c"/>
<circle cx="664.50" cy="838.50" r="9.8" fill="#fff"/><circle cx="664.50" cy="838.50" r="5.5" fill="#2ca02c"/>
<circle cx="668.50" cy="838.50" r="9.8" fill="#fff"/><circle cx="668.50" cy="838.50" r="5.5" fill="#2ca02c"/>
<circle cx="673.50" cy="838.50" r="9.8" fill="#fff"/><circle cx="673.50" cy="838.50" r="5.5" fill="#2ca02c"/>
<circle cx="677.50" cy="838.50" r="9.8" fill="#fff"/><circle cx="677.50" cy="838.50" r="5.5" fill="#2ca02c"/>
<circle cx="681.50" cy="838.50" r="9.8" fill="#fff"/><circle cx="681.50" cy="838.50" r="5.5" fill="#2ca02c"/>
<circle cx="686.50" cy="838.50" r="9.8" fill="#fff"/><circle cx="686.50" cy="838.50" r="5.5" fill="#2ca02c"/>
<circle cx="690.50" cy="838.50" r="9.8" fill="#fff"/><circle cx="690.50" cy="838.50" r="5.5" fill="#2ca02c"/>
<circle cx="694.50" cy="838.50" r="9.8" fill="#fff"/><circle cx="694.50" cy="838.50" r="5.5" fill="#2ca02c"/>
<circle cx="699.50" cy="838.50" r="9.8" fill="#fff"/><circle cx="699.50" cy="838.50" r="5.5" fill="#2ca02c"/>
<circle cx="703.50" cy="838.50" r="9.8" fill="#fff"/><circle cx="703.50" cy="838.50" r="5.5" fill="#2ca02c"/>
<circle cx="707.50" cy="838.50" r="9.8" fill="#fff"/><circle cx="707.50" cy="838.50" r="5.5" fill="#2ca02c"/>
<circle cx="712.50" cy="838.50" r="9.8" fill="#fff"/><circle cx="712.50" cy="838.50" r="5.5" fill="#2ca02c"/>
<circle cx="716.50" cy="838.50" r="9.8" fill="#fff"/><circle cx="716.50" cy="838.50" r="5.5" fill="#2ca02c"/>
<circle cx="721.50" cy="838.50" r="9.8" fill="#fff"/><circle cx="721.50" cy="838.50" r="5.5" fill="#2ca02c"/>
<circle cx="725.50" cy="838.50" r="9.8" fill="#fff"/><circle cx="725.50" cy="838.50" r="5.5" fill="#2ca02c"/>
<circle cx="729.50" cy="838.50" r="9.8" fill="#fff"/><circle cx="729.50" cy="838.50" r="5.5" fill="#2ca02c"/>
<circle cx="734.50" cy="838.50" r="9.8" fill="#fff"/><circle cx="734.50" cy="838.50" r="5.5" fill="#2ca02c"/>
<circle cx="738.50" cy="838.50" r="9.8" fill="#fff"/><circle cx="738.50" cy="838.50" r="5.5" fill="#2ca02c"/>
<circle cx="742.50" cy="838.50" r="9.8" fill="#fff"/><circle cx="742.50" cy="838.50" r="5.5" fill="#2ca02c"/>
<circle cx="747.50" cy="838.50" r="9.8" fill="#fff"/><circle cx="747.50" cy="838.50" r="5.5" fill="#2ca02c"/>
<circle cx="751.50" cy="838.50" r="9.8" fill="#fff"/><circle cx="751.50" cy="838.50" r="5.5" fill="#2ca02c"/>
<circle cx="755.50" cy="838.50" r="9.8" fill="#fff"/><circle cx="755.50" cy="838.50" r="5.5" fill="#2ca02c"/>
<circle cx="760.50" cy="838.50" r="9.8" fill="#fff"/><circle cx="760.50" cy="838.50" r="5.5" fill="#2ca02c"/>
<circle cx="764.50" cy="838.50" r="9.8" fill="#fff"/><circle cx="764.50" cy="838.50" r="5.5" fill="#2ca02c"/>
<circle cx="769.50" cy="838.50" r="9.8" fill="#fff"/><circle cx="769.50" cy="838.50" r="5.5" fill="#2ca02c"/>
<circle cx="773.50" cy="838.50" r="9.8" fill="#fff"/><circle cx="773.50" cy="838.50" r="5.5" fill="#2ca02c"/>
<circle cx="777.50" cy="838.50" r="9.8" fill="#fff"/><circle cx="777.50" cy="838.50" r="5.5" fill="#2ca02c"/>
<circle cx="782.50" cy="838.50" r="9.8" fill="#fff"/><circle cx="782.50" cy="838.50" r="5.5" fill="#2ca02c"/>
<circle cx="786.50" cy="838.50" r="9.8" fill="#fff"/><circle cx="786.50" cy="838.50" r="5.5" fill="#2ca02c"/>
<circle cx="790.50" cy="838.50" r="9.8" fill="#fff"/><circle cx="790.50" cy="838.50" r="5.5" fill="#2ca02c"/>
<circle cx="795.50" cy="838.50" r="9.8" fill="#fff"/><circle cx="795.50" cy="838.50" r="5.5" fill="#2ca02c"/>
<circle cx="799.50" cy="838.50" r="9.8" fill="#fff"/><circle cx="799.50" cy="838.50" r="5.5" fill="#2ca02c"/>
<circle cx="803.50" cy="838.50" r="9.8" fill="#fff"/><circle cx="803.50" cy="838.50" r="5.5" fill="#2ca02c"/>
<circle cx="808.50" cy="838.50" r="9.8" fill="#fff"/><circle cx="808.50" cy="838.50" r="5.5" fill="#2ca02c"/>
<circle cx="812.50" cy="838.50" r="9.8" fill="#fff"/><circle cx="812.50" cy="838.50" r="5.5" fill="#2ca02c"/>
<circle cx="816.50" cy="838.50" r="9.8" fill="#fff"/><circle cx="816.50" cy="838.50" r="5.5" fill="#2ca02c"/>
<circle cx="821.50" cy="838.50" r="9.8" fill="#fff"/><circle cx="821.50" cy="838.50" r="5.5" fill="#2ca02c"/>
<circle cx="825.50" cy="838.50" r="9.8" fill="#fff"/><circle cx="825.50" cy="838.50" r="5.5" fill="#2ca02c"/>
<circle cx="830.50" cy="838.50" r="9.8" fill="#fff"/><circle cx="830.50" cy="838.50" r="5.5" fill="#2ca02c"/>
<circle cx="834.50" cy="838.50" r="9.8" fill="#fff"/><circle cx="834.50" cy="838.50" r="5.5" fill="#2ca02c"/>
<circle cx="838.50" cy="838.50" r="9.8" fill="#fff"/><circle cx="838.50" cy="838.50" r="5.5" fill="#2ca02c"/>
<circle cx="843.50" cy="838.50" r="9.8" fill="#fff"/><circle cx="843.50" cy="838.50" r="5.5" fill="#2ca02c"/>
<circle cx="847.50" cy="838.50" r="9.8" fill="#fff"/><circle cx="847.50" cy="838.50" r="5.5" fill="#2ca02c"/>
<circle cx="851.50" cy="838.50" r="9.8" fill="#fff"/><circle cx="851.50" cy="838.50" r="5.5" fill="#2ca02c"/>
<circle cx="856.50" cy="838.50" r="9.8" fill="#fff"/><circle cx="856.50" cy="838.50" r="5.5" fill="#2ca02c"/>
<circle cx="860.50" cy="838.50" r="9.8" fill="#fff"/><circle cx="860.50" cy="838.50" r="5.5" fill="#2ca02c"/>
<circle cx="864.50" cy="838.50" r="9.8" fill="#fff"/><circle cx="864.50" cy="838.50" r="5.5" fill="#2ca02c"/>
<circle cx="869.50" cy="838.50" r="9.8" fill="#fff"/><circle cx="869.50" cy="838.50" r="5.5" fill="#2ca02c"/>
<circle cx="873.50" cy="838.50" r="9.8" fill="#fff"/><circle cx="873.50" cy="838.50" r="5.5" fill="#2ca02c"/>
<circle cx="878.50" cy="838.50" r="9.8" fill="#fff"/><circle cx="878.50" cy="838.50" r="5.5" fill="#2ca02c"/>
<circle cx="882.50" cy="838.50" r="9.8" fill="#fff"/><circle cx="882.50" cy="838.50" r="5.5" fill="#2ca02c"/>
<circle cx="886.50" cy="838.50" r="9.8" fill="#fff"/><circle cx="886.50" cy="838.50" r="5.5" fill="#2ca02c"/>
<circle cx="891.50" cy="838.50" r="9.8" fill="#fff"/><circle cx="891.50" cy="838.50" r="5.5" fill="#2ca02c"/>
<circle cx="895.50" cy="838.50" r="9.8" fill="#fff"/><circle cx="895.50" cy="838.50" r="5.5" fill="#2ca02c"/>
<circle cx="899.50" cy="838.50" r="9.8" fill="#fff"/><circle cx="899.50" cy="838.50" r="5.5" fill="#2ca02c"/>
<circle cx="904.50" cy="838.50" r="9.8" fill="#fff"/><circle cx="904.50" cy="838.50" r="5.5" fill="#2ca02c"/>
<circle cx="908.50" cy="838.50" r="9.8" fill="#fff"/><circle cx="908.50" cy="838.50" r="5.5" fill="#2ca02c"/>
<circle cx="912.50" cy="838.50" r="9.8" fill="#fff"/><circle cx="912.50" cy="838.50" r="5.5" fill="#2ca02c"/>
<circle cx="917.50" cy="838.50" r="9.8" fill="#fff"/><circle cx="917.50" cy="838.50" r="5.5" fill="#2ca02c"/>
<circle cx="921.50" cy="838.50" r="9.8" fill="#fff"/><circle cx="921.50" cy="838.50" r="5.5" fill="#2ca02c"/>
<circle cx="926.50" cy="838.50" r="9.8" fill="#fff"/><circle cx="926.50" cy="838.50" r="5.5" fill="#2ca02c"/>
<circle cx="930.50" cy="838.50" r="9.8" fill="#fff"/><circle cx="930.50" cy="838.50" r="5.5" fill="#2ca02c"/>
<circle cx="934.50" cy="838.50" r="9.8" fill="#fff"/><circle cx="934.50" cy="838.50" r="5.5" fill="#2ca02c"/>
<circle cx="939.50" cy="838.50" r="9.8" fill="#fff"/><circle cx="939.50" cy="838.50" r="5.5" fill="#2ca02c"/>
<circle cx="943.50" cy="838.50" r="9.8" fill="#fff"/><circle cx="943.50" cy="838.50" r="5.5" fill="#2ca02c"/>
<circle cx="947.50" cy="838.50" r="9.8" fill="#fff"/><circle cx="947.50" cy="838.50" r="5.5" fill="#2ca02c"/>
<circle cx="952.50" cy="838.50" r="9.8" fill="#fff"/><circle cx="952.50" cy="838.50" r="5.5" fill="#2ca02c"/>
<circle cx="956.50" cy="838.50" r="9.8" fill="#fff"/><circle cx="956.50" cy="838.50" r="5.5" fill="#2ca02c"/>
<circle cx="960.50" cy="838.50" r="9.8" fill="#fff"/><circle cx="960.50" cy="838.50" r="5.5" fill="#2ca02c"/>
<circle cx="965.50" cy="838.50" r="9.8" fill="#fff"/><circle cx="965.50" cy="838.50" r="5.5" fill="#2ca02c"/>
<circle cx="969.50" cy="838.50" r="9.8" fill="#fff"/><circle cx="969.50" cy="838.50" r="5.5" fill="#2ca02c"/>
<circle cx="973.50" cy="838.50" r="9.8" fill="#fff"/><circle cx="973.50" cy="838.50" r="5.5" fill="#2ca02c"/>
<circle cx="978.50" cy="838.50" r="9.8" fill="#fff"/><circle cx="978.50" cy="838.50" r="5.5" fill="#2ca02c"/>
<circle cx="982.50" cy="838.50" r="9.8" fill="#fff"/><circle cx="982.50" cy="838.50" r="5.5" fill="#2ca02c"/>
<circle cx="987.50" cy="838.50" r="9.8" fill="#fff"/><circle cx="987.50" cy="838.50" r="5.5" fill="#2ca02c"/>
<circle cx="991.50" cy="838.50" r="9.8" fill="#fff"/><circle cx="991.50" cy="838.50" r="5.5" fill="#2ca02c"/>
<circle cx="995.50" cy="838.50" r="9.8" fill="#fff"/><circle cx="995.50" cy="838.50" r="5.5" fill="#2ca02c"/>
<circle cx="1000.50" cy="838.50" r="9.8" fill="#fff"/><circle cx="1000.50" cy="838.50" r="5.5" fill="#2ca02c"/>
</g>
<text x="1087" y="80.30" text-anchor="end" xml:space="preserve">TCP</text>
<path d="M1097.3 74.5H1145.7" stroke="#0060ad" stroke-width="2.0"/>
<circle cx="1121.5" cy="74.5" r="9.8" fill="#fff"/><circle cx="1121.5" cy="74.5" r="5.5" fill="#0060ad"/>
<text x="1087" y="99.35" text-anchor="end" xml:space="preserve">UDP</text>
<path d="M1097.3 93.55H1145.7" stroke="#ff7f00" stroke-width="2.0"/>
<circle cx="1121.5" cy="93.55" r="9.8" fill="#fff"/><circle cx="1121.5" cy="93.55" r="5.5" fill="#ff7f00"/>
<text x="1087" y="118.40" text-anchor="end" xml:space="preserve">IP (!TCP  !UDP)</text>
<path d="M1097.3 112.6H1145.7" stroke="#2ca02c" stroke-width="2.0"/>
<circle cx="1121.5" cy="112.6" r="9.8" fill="#fff"/><circle cx="1121.5" cy="112.6" r="5.5" fill="#2ca02c"/>
<path d="M75.5 57.0V838.5H1166.0" stroke="#000" stroke-width="1" fill="none"/>
<text x="65.3" y="845" text-anchor="end">0</text>
<text x="65.3" y="689" text-anchor="end">5</text>
<text x="65.3" y="532" text-anchor="end">10</text>
<text x="65.3" y="376" text-anchor="end">15</text>
<text x="65.3" y="220" text-anchor="end">20</text>
<text x="65.3" y="63" text-anchor="end">25</text>
<text x="78.50" y="864" text-anchor="middle">0</text>
<text x="296.50" y="864" text-anchor="middle">50</text>
<text x="514.50" y="864" text-anchor="middle">100</text>
<text x="732.50" y="864" text-anchor="middle">150</text>
<text x="950.50" y="864" text-anchor="middle">200</text>
<text x="1168.50" y="864" text-anchor="middle">250</text>
<text x="620.2" y="891.6" text-anchor="middle">Time (s)</text>
<text transform="translate(24.3 448) rotate(-90)" text-anchor="middle">Megabits</text>
<text x="83" y="35" xml:space="preserve" textLength="1075.5" lengthAdjust="spacing">/mnt/stor0/searchlight/corpus/experiment<tspan font-size="12.8px" dy="4">2</tspan><tspan dy="-4">/eth1</tspan><tspan font-size="12.8px" dy="4">i</tspan><tspan dy="-4">nterface/exp-b-True/1650933771-c0.caubryvtctwo.hdumb.pharos-exp-b-True.pcap.csv</tspan></text>
</svg></body></html>
